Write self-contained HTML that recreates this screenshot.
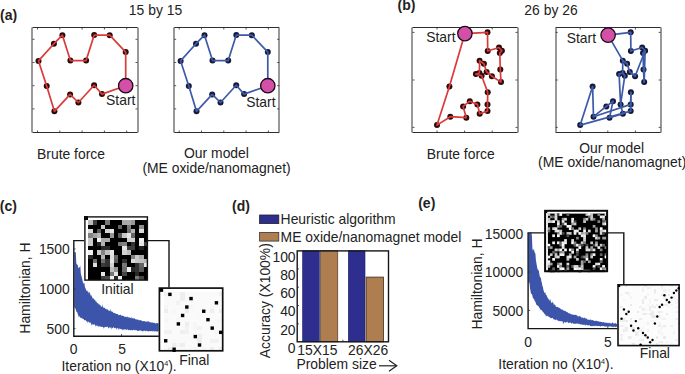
<!DOCTYPE html>
<html><head><meta charset="utf-8"><style>
html,body{margin:0;padding:0;background:#fff;width:685px;height:374px;overflow:hidden}
svg{display:block}
text{font-family:"Liberation Sans",sans-serif}
</style></head><body>
<svg width="685" height="374" viewBox="0 0 685 374">
<rect width="685" height="374" fill="#fff"/>
<text x="0" y="20.4" font-size="14" fill="#222" text-anchor="start" font-weight="bold" >(a)</text>
<text x="155.5" y="15.2" font-size="13.9" fill="#222" text-anchor="middle" font-weight="normal" >15 by 15</text>
<line x1="32.5" y1="27.5" x2="137.5" y2="27.5" stroke="#2e2e2e" stroke-width="1"/>
<line x1="32.5" y1="132.5" x2="137.5" y2="132.5" stroke="#2e2e2e" stroke-width="1"/>
<line x1="32" y1="27.5" x2="32" y2="132.5" stroke="#444" stroke-width="1.1"/>
<line x1="138" y1="27.5" x2="138" y2="132.5" stroke="#444" stroke-width="1.1"/>
<line x1="37.5" y1="27.5" x2="37.5" y2="29.5" stroke="#2a2a2a" stroke-width="0.8"/>
<line x1="37.5" y1="132.5" x2="37.5" y2="130.5" stroke="#2a2a2a" stroke-width="0.8"/>
<line x1="59.8" y1="27.5" x2="59.8" y2="29.5" stroke="#2a2a2a" stroke-width="0.8"/>
<line x1="59.8" y1="132.5" x2="59.8" y2="130.5" stroke="#2a2a2a" stroke-width="0.8"/>
<line x1="82.1" y1="27.5" x2="82.1" y2="29.5" stroke="#2a2a2a" stroke-width="0.8"/>
<line x1="82.1" y1="132.5" x2="82.1" y2="130.5" stroke="#2a2a2a" stroke-width="0.8"/>
<line x1="104.4" y1="27.5" x2="104.4" y2="29.5" stroke="#2a2a2a" stroke-width="0.8"/>
<line x1="104.4" y1="132.5" x2="104.4" y2="130.5" stroke="#2a2a2a" stroke-width="0.8"/>
<line x1="126.7" y1="27.5" x2="126.7" y2="29.5" stroke="#2a2a2a" stroke-width="0.8"/>
<line x1="126.7" y1="132.5" x2="126.7" y2="130.5" stroke="#2a2a2a" stroke-width="0.8"/>
<line x1="32.5" y1="39.3" x2="34.5" y2="39.3" stroke="#2a2a2a" stroke-width="0.8"/>
<line x1="137.5" y1="39.3" x2="135.5" y2="39.3" stroke="#2a2a2a" stroke-width="0.8"/>
<line x1="32.5" y1="62.5" x2="34.5" y2="62.5" stroke="#2a2a2a" stroke-width="0.8"/>
<line x1="137.5" y1="62.5" x2="135.5" y2="62.5" stroke="#2a2a2a" stroke-width="0.8"/>
<line x1="32.5" y1="85.7" x2="34.5" y2="85.7" stroke="#2a2a2a" stroke-width="0.8"/>
<line x1="137.5" y1="85.7" x2="135.5" y2="85.7" stroke="#2a2a2a" stroke-width="0.8"/>
<line x1="32.5" y1="108.9" x2="34.5" y2="108.9" stroke="#2a2a2a" stroke-width="0.8"/>
<line x1="137.5" y1="108.9" x2="135.5" y2="108.9" stroke="#2a2a2a" stroke-width="0.8"/>
<circle cx="125.7" cy="52.1" r="3.0" fill="#2a0a0a"/>
<circle cx="109.7" cy="35.2" r="3.0" fill="#2a0a0a"/>
<circle cx="94.2" cy="35.1" r="3.0" fill="#2a0a0a"/>
<circle cx="86.1" cy="60.6" r="3.0" fill="#2a0a0a"/>
<circle cx="70.4" cy="60.6" r="3.0" fill="#2a0a0a"/>
<circle cx="62.4" cy="35.2" r="3.0" fill="#2a0a0a"/>
<circle cx="53.9" cy="43.7" r="3.0" fill="#2a0a0a"/>
<circle cx="38.5" cy="60.9" r="3.0" fill="#2a0a0a"/>
<circle cx="46.7" cy="85.9" r="3.0" fill="#2a0a0a"/>
<circle cx="54.4" cy="111.3" r="3.0" fill="#2a0a0a"/>
<circle cx="70.1" cy="94.4" r="3.0" fill="#2a0a0a"/>
<circle cx="78.4" cy="102.5" r="3.0" fill="#2a0a0a"/>
<circle cx="94.1" cy="85.2" r="3.0" fill="#2a0a0a"/>
<circle cx="102.0" cy="94.1" r="3.0" fill="#2a0a0a"/>
<path d="M125.7,85.7 L125.7,52.1 L109.7,35.2 L94.2,35.1 L86.1,60.6 L70.4,60.6 L62.4,35.2 L53.9,43.7 L38.5,60.9 L46.7,85.9 L54.4,111.3 L70.1,94.4 L78.4,102.5 L94.1,85.2 L102.0,94.1 L125.7,85.7" fill="none" stroke="#d93a3a" stroke-width="1.7" stroke-linejoin="round"/>
<circle cx="125.7" cy="85.7" r="7.2" fill="#d44fa8" stroke="#1a0a14" stroke-width="1.3"/>
<text x="106.1" y="104.8" font-size="13.9" fill="#222" text-anchor="start" font-weight="normal" >Start</text>
<line x1="174.2" y1="27.5" x2="279.2" y2="27.5" stroke="#2e2e2e" stroke-width="1"/>
<line x1="174.2" y1="132.5" x2="279.2" y2="132.5" stroke="#2e2e2e" stroke-width="1"/>
<line x1="174" y1="27.5" x2="174" y2="132.5" stroke="#444" stroke-width="1.1"/>
<line x1="279" y1="27.5" x2="279" y2="132.5" stroke="#444" stroke-width="1.1"/>
<line x1="179.2" y1="27.5" x2="179.2" y2="29.5" stroke="#2a2a2a" stroke-width="0.8"/>
<line x1="179.2" y1="132.5" x2="179.2" y2="130.5" stroke="#2a2a2a" stroke-width="0.8"/>
<line x1="201.5" y1="27.5" x2="201.5" y2="29.5" stroke="#2a2a2a" stroke-width="0.8"/>
<line x1="201.5" y1="132.5" x2="201.5" y2="130.5" stroke="#2a2a2a" stroke-width="0.8"/>
<line x1="223.79999999999998" y1="27.5" x2="223.79999999999998" y2="29.5" stroke="#2a2a2a" stroke-width="0.8"/>
<line x1="223.79999999999998" y1="132.5" x2="223.79999999999998" y2="130.5" stroke="#2a2a2a" stroke-width="0.8"/>
<line x1="246.1" y1="27.5" x2="246.1" y2="29.5" stroke="#2a2a2a" stroke-width="0.8"/>
<line x1="246.1" y1="132.5" x2="246.1" y2="130.5" stroke="#2a2a2a" stroke-width="0.8"/>
<line x1="268.4" y1="27.5" x2="268.4" y2="29.5" stroke="#2a2a2a" stroke-width="0.8"/>
<line x1="268.4" y1="132.5" x2="268.4" y2="130.5" stroke="#2a2a2a" stroke-width="0.8"/>
<line x1="174.2" y1="39.3" x2="176.2" y2="39.3" stroke="#2a2a2a" stroke-width="0.8"/>
<line x1="279.2" y1="39.3" x2="277.2" y2="39.3" stroke="#2a2a2a" stroke-width="0.8"/>
<line x1="174.2" y1="62.5" x2="176.2" y2="62.5" stroke="#2a2a2a" stroke-width="0.8"/>
<line x1="279.2" y1="62.5" x2="277.2" y2="62.5" stroke="#2a2a2a" stroke-width="0.8"/>
<line x1="174.2" y1="85.7" x2="176.2" y2="85.7" stroke="#2a2a2a" stroke-width="0.8"/>
<line x1="279.2" y1="85.7" x2="277.2" y2="85.7" stroke="#2a2a2a" stroke-width="0.8"/>
<line x1="174.2" y1="108.9" x2="176.2" y2="108.9" stroke="#2a2a2a" stroke-width="0.8"/>
<line x1="279.2" y1="108.9" x2="277.2" y2="108.9" stroke="#2a2a2a" stroke-width="0.8"/>
<circle cx="267.8" cy="52.1" r="3.0" fill="#161a3a"/>
<circle cx="251.8" cy="35.2" r="3.0" fill="#161a3a"/>
<circle cx="236.3" cy="35.1" r="3.0" fill="#161a3a"/>
<circle cx="228.2" cy="60.6" r="3.0" fill="#161a3a"/>
<circle cx="212.5" cy="60.6" r="3.0" fill="#161a3a"/>
<circle cx="204.5" cy="35.2" r="3.0" fill="#161a3a"/>
<circle cx="196.0" cy="43.7" r="3.0" fill="#161a3a"/>
<circle cx="180.6" cy="60.9" r="3.0" fill="#161a3a"/>
<circle cx="188.8" cy="85.9" r="3.0" fill="#161a3a"/>
<circle cx="196.5" cy="111.3" r="3.0" fill="#161a3a"/>
<circle cx="212.2" cy="94.4" r="3.0" fill="#161a3a"/>
<circle cx="220.5" cy="102.5" r="3.0" fill="#161a3a"/>
<circle cx="236.2" cy="85.2" r="3.0" fill="#161a3a"/>
<circle cx="244.1" cy="94.1" r="3.0" fill="#161a3a"/>
<path d="M267.8,85.7 L267.8,52.1 L251.8,35.2 L236.3,35.1 L228.2,60.6 L212.5,60.6 L204.5,35.2 L196.0,43.7 L180.6,60.9 L188.8,85.9 L196.5,111.3 L212.2,94.4 L220.5,102.5 L236.2,85.2 L244.1,94.1 L267.8,85.7" fill="none" stroke="#3d5aa8" stroke-width="1.7" stroke-linejoin="round"/>
<circle cx="267.8" cy="85.7" r="7.2" fill="#d44fa8" stroke="#1a0a14" stroke-width="1.3"/>
<text x="246.2" y="107.0" font-size="13.9" fill="#222" text-anchor="start" font-weight="normal" >Start</text>
<text x="71" y="158.8" font-size="13.9" fill="#222" text-anchor="middle" font-weight="normal" >Brute force</text>
<text x="216.5" y="157.8" font-size="13.9" fill="#222" text-anchor="middle" font-weight="normal" >Our model</text>
<text x="216.5" y="172.6" font-size="13.9" fill="#222" text-anchor="middle" font-weight="normal" >(ME oxide/nanomagnet)</text>
<text x="397.6" y="10.4" font-size="14" fill="#222" text-anchor="start" font-weight="bold" >(b)</text>
<text x="551" y="14.9" font-size="13.9" fill="#222" text-anchor="middle" font-weight="normal" >26 by 26</text>
<line x1="412.5" y1="27.5" x2="517.5" y2="27.5" stroke="#2e2e2e" stroke-width="1"/>
<line x1="412.5" y1="132.5" x2="517.5" y2="132.5" stroke="#2e2e2e" stroke-width="1"/>
<line x1="412" y1="27.5" x2="412" y2="132.5" stroke="#444" stroke-width="1.1"/>
<line x1="518" y1="27.5" x2="518" y2="132.5" stroke="#444" stroke-width="1.1"/>
<line x1="437" y1="27.5" x2="437" y2="29.5" stroke="#2a2a2a" stroke-width="0.8"/>
<line x1="437" y1="132.5" x2="437" y2="130.5" stroke="#2a2a2a" stroke-width="0.8"/>
<line x1="464.6" y1="27.5" x2="464.6" y2="29.5" stroke="#2a2a2a" stroke-width="0.8"/>
<line x1="464.6" y1="132.5" x2="464.6" y2="130.5" stroke="#2a2a2a" stroke-width="0.8"/>
<line x1="492.2" y1="27.5" x2="492.2" y2="29.5" stroke="#2a2a2a" stroke-width="0.8"/>
<line x1="492.2" y1="132.5" x2="492.2" y2="130.5" stroke="#2a2a2a" stroke-width="0.8"/>
<line x1="412.5" y1="32.4" x2="414.5" y2="32.4" stroke="#2a2a2a" stroke-width="0.8"/>
<line x1="517.5" y1="32.4" x2="515.5" y2="32.4" stroke="#2a2a2a" stroke-width="0.8"/>
<line x1="412.5" y1="80" x2="414.5" y2="80" stroke="#2a2a2a" stroke-width="0.8"/>
<line x1="517.5" y1="80" x2="515.5" y2="80" stroke="#2a2a2a" stroke-width="0.8"/>
<line x1="412.5" y1="127.4" x2="414.5" y2="127.4" stroke="#2a2a2a" stroke-width="0.8"/>
<line x1="517.5" y1="127.4" x2="515.5" y2="127.4" stroke="#2a2a2a" stroke-width="0.8"/>
<circle cx="449.4" cy="86.6" r="3.0" fill="#2a0a0a"/>
<circle cx="437.0" cy="125.1" r="3.0" fill="#2a0a0a"/>
<circle cx="450.3" cy="116.7" r="3.0" fill="#2a0a0a"/>
<circle cx="466.3" cy="117.7" r="3.0" fill="#2a0a0a"/>
<circle cx="463.1" cy="106.4" r="3.0" fill="#2a0a0a"/>
<circle cx="469.8" cy="101.3" r="3.0" fill="#2a0a0a"/>
<circle cx="477.4" cy="104.4" r="3.0" fill="#2a0a0a"/>
<circle cx="479.7" cy="113.7" r="3.0" fill="#2a0a0a"/>
<circle cx="487.5" cy="111.1" r="3.0" fill="#2a0a0a"/>
<circle cx="487.5" cy="104.4" r="3.0" fill="#2a0a0a"/>
<circle cx="487.7" cy="92.3" r="3.0" fill="#2a0a0a"/>
<circle cx="481.6" cy="75.7" r="3.0" fill="#2a0a0a"/>
<circle cx="479.4" cy="73.0" r="3.0" fill="#2a0a0a"/>
<circle cx="475.9" cy="74.1" r="3.0" fill="#2a0a0a"/>
<circle cx="479.6" cy="60.7" r="3.0" fill="#2a0a0a"/>
<circle cx="483.9" cy="63.7" r="3.0" fill="#2a0a0a"/>
<circle cx="486.6" cy="71.9" r="3.0" fill="#2a0a0a"/>
<circle cx="491.9" cy="76.2" r="3.0" fill="#2a0a0a"/>
<circle cx="501.0" cy="82.1" r="3.0" fill="#2a0a0a"/>
<circle cx="500.3" cy="69.6" r="3.0" fill="#2a0a0a"/>
<circle cx="499.8" cy="53.0" r="3.0" fill="#2a0a0a"/>
<circle cx="501.9" cy="50.7" r="3.0" fill="#2a0a0a"/>
<circle cx="499.0" cy="47.5" r="3.0" fill="#2a0a0a"/>
<circle cx="487.7" cy="51.0" r="3.0" fill="#2a0a0a"/>
<circle cx="487.5" cy="32.3" r="3.0" fill="#2a0a0a"/>
<path d="M464.9,33.6 L449.4,86.6 L437.0,125.1 L450.3,116.7 L466.3,117.7 L463.1,106.4 L469.8,101.3 L477.4,104.4 L479.7,113.7 L487.5,111.1 L487.5,104.4 L487.7,92.3 L481.6,75.7 L475.9,74.1 L479.4,73.0 L479.6,60.7 L483.9,63.7 L486.6,71.9 L491.9,76.2 L501.0,82.1 L500.3,69.6 L499.8,53.0 L501.9,50.7 L499.0,47.5 L487.7,51.0 L487.5,32.3 L464.9,33.6" fill="none" stroke="#d93a3a" stroke-width="1.7" stroke-linejoin="round"/>
<circle cx="464.9" cy="33.6" r="7.2" fill="#d44fa8" stroke="#1a0a14" stroke-width="1.3"/>
<text x="426.2" y="41.5" font-size="13.9" fill="#222" text-anchor="start" font-weight="normal" >Start</text>
<line x1="555.7" y1="27.5" x2="660.7" y2="27.5" stroke="#2e2e2e" stroke-width="1"/>
<line x1="555.7" y1="132.5" x2="660.7" y2="132.5" stroke="#2e2e2e" stroke-width="1"/>
<line x1="556" y1="27.5" x2="556" y2="132.5" stroke="#444" stroke-width="1.1"/>
<line x1="661" y1="27.5" x2="661" y2="132.5" stroke="#444" stroke-width="1.1"/>
<line x1="580.2" y1="27.5" x2="580.2" y2="29.5" stroke="#2a2a2a" stroke-width="0.8"/>
<line x1="580.2" y1="132.5" x2="580.2" y2="130.5" stroke="#2a2a2a" stroke-width="0.8"/>
<line x1="607.8" y1="27.5" x2="607.8" y2="29.5" stroke="#2a2a2a" stroke-width="0.8"/>
<line x1="607.8" y1="132.5" x2="607.8" y2="130.5" stroke="#2a2a2a" stroke-width="0.8"/>
<line x1="635.4" y1="27.5" x2="635.4" y2="29.5" stroke="#2a2a2a" stroke-width="0.8"/>
<line x1="635.4" y1="132.5" x2="635.4" y2="130.5" stroke="#2a2a2a" stroke-width="0.8"/>
<line x1="555.7" y1="32.4" x2="557.7" y2="32.4" stroke="#2a2a2a" stroke-width="0.8"/>
<line x1="660.7" y1="32.4" x2="658.7" y2="32.4" stroke="#2a2a2a" stroke-width="0.8"/>
<line x1="555.7" y1="80" x2="557.7" y2="80" stroke="#2a2a2a" stroke-width="0.8"/>
<line x1="660.7" y1="80" x2="658.7" y2="80" stroke="#2a2a2a" stroke-width="0.8"/>
<line x1="555.7" y1="127.4" x2="557.7" y2="127.4" stroke="#2a2a2a" stroke-width="0.8"/>
<line x1="660.7" y1="127.4" x2="658.7" y2="127.4" stroke="#2a2a2a" stroke-width="0.8"/>
<circle cx="592.6" cy="86.6" r="3.0" fill="#161a3a"/>
<circle cx="580.2" cy="125.1" r="3.0" fill="#161a3a"/>
<circle cx="593.5" cy="116.7" r="3.0" fill="#161a3a"/>
<circle cx="609.5" cy="117.7" r="3.0" fill="#161a3a"/>
<circle cx="606.3" cy="106.4" r="3.0" fill="#161a3a"/>
<circle cx="613.0" cy="101.3" r="3.0" fill="#161a3a"/>
<circle cx="620.6" cy="104.4" r="3.0" fill="#161a3a"/>
<circle cx="622.9" cy="113.7" r="3.0" fill="#161a3a"/>
<circle cx="630.7" cy="111.1" r="3.0" fill="#161a3a"/>
<circle cx="630.7" cy="104.4" r="3.0" fill="#161a3a"/>
<circle cx="630.9" cy="92.3" r="3.0" fill="#161a3a"/>
<circle cx="624.8" cy="75.7" r="3.0" fill="#161a3a"/>
<circle cx="622.6" cy="73.0" r="3.0" fill="#161a3a"/>
<circle cx="619.1" cy="74.1" r="3.0" fill="#161a3a"/>
<circle cx="622.8" cy="60.7" r="3.0" fill="#161a3a"/>
<circle cx="627.1" cy="63.7" r="3.0" fill="#161a3a"/>
<circle cx="629.8" cy="71.9" r="3.0" fill="#161a3a"/>
<circle cx="635.1" cy="76.2" r="3.0" fill="#161a3a"/>
<circle cx="644.2" cy="82.1" r="3.0" fill="#161a3a"/>
<circle cx="643.5" cy="69.6" r="3.0" fill="#161a3a"/>
<circle cx="643.0" cy="53.0" r="3.0" fill="#161a3a"/>
<circle cx="645.1" cy="50.7" r="3.0" fill="#161a3a"/>
<circle cx="642.2" cy="47.5" r="3.0" fill="#161a3a"/>
<circle cx="630.9" cy="51.0" r="3.0" fill="#161a3a"/>
<circle cx="630.7" cy="32.3" r="3.0" fill="#161a3a"/>
<line x1="608.1" y1="35.1" x2="630.7" y2="32.3" stroke="#3d5aa8" stroke-width="1.7" stroke-linecap="round"/>
<line x1="630.7" y1="32.3" x2="630.9" y2="51.0" stroke="#3d5aa8" stroke-width="1.7" stroke-linecap="round"/>
<line x1="630.9" y1="51.0" x2="642.2" y2="47.5" stroke="#3d5aa8" stroke-width="1.7" stroke-linecap="round"/>
<line x1="642.2" y1="47.5" x2="645.1" y2="50.7" stroke="#3d5aa8" stroke-width="1.7" stroke-linecap="round"/>
<line x1="645.1" y1="50.7" x2="643.0" y2="53.0" stroke="#3d5aa8" stroke-width="1.7" stroke-linecap="round"/>
<line x1="643.0" y1="53.0" x2="643.5" y2="69.6" stroke="#3d5aa8" stroke-width="1.7" stroke-linecap="round"/>
<line x1="643.5" y1="69.6" x2="644.2" y2="82.1" stroke="#3d5aa8" stroke-width="1.7" stroke-linecap="round"/>
<line x1="645.1" y1="50.7" x2="644.2" y2="82.1" stroke="#3d5aa8" stroke-width="1.7" stroke-linecap="round"/>
<line x1="645.1" y1="50.7" x2="635.1" y2="76.2" stroke="#3d5aa8" stroke-width="1.7" stroke-linecap="round"/>
<line x1="635.1" y1="76.2" x2="629.8" y2="71.9" stroke="#3d5aa8" stroke-width="1.7" stroke-linecap="round"/>
<line x1="629.8" y1="71.9" x2="627.1" y2="63.7" stroke="#3d5aa8" stroke-width="1.7" stroke-linecap="round"/>
<line x1="627.1" y1="63.7" x2="622.8" y2="60.7" stroke="#3d5aa8" stroke-width="1.7" stroke-linecap="round"/>
<line x1="608.1" y1="35.1" x2="622.8" y2="60.7" stroke="#3d5aa8" stroke-width="1.7" stroke-linecap="round"/>
<line x1="622.8" y1="60.7" x2="622.6" y2="73.0" stroke="#3d5aa8" stroke-width="1.7" stroke-linecap="round"/>
<line x1="622.6" y1="73.0" x2="619.1" y2="74.1" stroke="#3d5aa8" stroke-width="1.7" stroke-linecap="round"/>
<line x1="619.1" y1="74.1" x2="620.6" y2="104.4" stroke="#3d5aa8" stroke-width="1.7" stroke-linecap="round"/>
<line x1="624.8" y1="75.7" x2="620.6" y2="104.4" stroke="#3d5aa8" stroke-width="1.7" stroke-linecap="round"/>
<line x1="622.6" y1="73.0" x2="624.8" y2="75.7" stroke="#3d5aa8" stroke-width="1.7" stroke-linecap="round"/>
<line x1="592.6" y1="86.6" x2="580.2" y2="125.1" stroke="#3d5aa8" stroke-width="1.7" stroke-linecap="round"/>
<line x1="592.6" y1="86.6" x2="593.5" y2="116.7" stroke="#3d5aa8" stroke-width="1.7" stroke-linecap="round"/>
<line x1="593.5" y1="116.7" x2="606.3" y2="106.4" stroke="#3d5aa8" stroke-width="1.7" stroke-linecap="round"/>
<line x1="606.3" y1="106.4" x2="613.0" y2="101.3" stroke="#3d5aa8" stroke-width="1.7" stroke-linecap="round"/>
<line x1="613.0" y1="101.3" x2="609.5" y2="117.7" stroke="#3d5aa8" stroke-width="1.7" stroke-linecap="round"/>
<line x1="609.5" y1="117.7" x2="622.9" y2="113.7" stroke="#3d5aa8" stroke-width="1.7" stroke-linecap="round"/>
<line x1="620.6" y1="104.4" x2="622.9" y2="113.7" stroke="#3d5aa8" stroke-width="1.7" stroke-linecap="round"/>
<line x1="593.5" y1="116.7" x2="630.7" y2="104.4" stroke="#3d5aa8" stroke-width="1.7" stroke-linecap="round"/>
<line x1="580.2" y1="125.1" x2="630.7" y2="111.1" stroke="#3d5aa8" stroke-width="1.7" stroke-linecap="round"/>
<line x1="630.7" y1="104.4" x2="630.9" y2="92.3" stroke="#3d5aa8" stroke-width="1.7" stroke-linecap="round"/>
<line x1="630.7" y1="111.1" x2="630.9" y2="92.3" stroke="#3d5aa8" stroke-width="1.7" stroke-linecap="round"/>
<circle cx="608.1" cy="35.1" r="7.2" fill="#d44fa8" stroke="#1a0a14" stroke-width="1.3"/>
<text x="566.7" y="42.8" font-size="13.9" fill="#222" text-anchor="start" font-weight="normal" >Start</text>
<text x="460.8" y="158.8" font-size="13.9" fill="#222" text-anchor="middle" font-weight="normal" >Brute force</text>
<text x="611.6" y="152.6" font-size="13.9" fill="#222" text-anchor="middle" font-weight="normal" >Our model</text>
<text x="612.2" y="167.4" font-size="13.9" fill="#222" text-anchor="middle" font-weight="normal" >(ME oxide/nanomagnet)</text>
<text x="-0.2" y="210.6" font-size="14" fill="#222" text-anchor="start" font-weight="bold" >(c)</text>
<path d="M74.30,251.42 L74.80,252.51 L75.30,252.18 L75.80,252.00 L76.30,263.21 L76.80,264.03 L77.30,265.69 L77.80,264.21 L78.30,268.26 L78.80,268.05 L79.30,267.13 L79.80,267.01 L80.30,265.59 L80.80,273.41 L81.30,275.56 L81.80,277.56 L82.30,279.53 L82.80,281.88 L83.30,283.05 L83.80,283.66 L84.30,282.66 L84.80,286.60 L85.30,287.99 L85.80,289.11 L86.30,290.41 L86.80,291.08 L87.30,290.30 L87.80,291.91 L88.30,291.61 L88.80,293.61 L89.30,293.09 L89.80,291.50 L90.30,294.58 L90.80,295.65 L91.30,294.94 L91.80,296.54 L92.30,297.28 L92.80,298.84 L93.30,298.36 L93.80,298.71 L94.30,300.11 L94.80,299.62 L95.30,300.35 L95.80,301.70 L96.30,301.37 L96.80,302.46 L97.30,302.91 L97.80,303.14 L98.30,303.61 L98.80,304.55 L99.30,303.99 L99.80,305.30 L100.30,304.86 L100.80,306.29 L101.30,306.71 L101.80,306.65 L102.30,304.14 L102.80,306.99 L103.30,307.33 L103.80,308.03 L104.30,307.72 L104.80,307.83 L105.30,308.73 L105.80,309.05 L106.30,309.69 L106.80,308.78 L107.30,309.20 L107.80,309.73 L108.30,309.68 L108.80,310.90 L109.30,310.85 L109.80,311.01 L110.30,308.71 L110.80,311.59 L111.30,310.95 L111.80,311.73 L112.30,311.74 L112.80,311.65 L113.30,312.68 L113.80,312.89 L114.30,313.16 L114.80,312.84 L115.30,313.71 L115.80,313.34 L116.30,314.08 L116.80,314.01 L117.30,314.16 L117.80,313.78 L118.30,315.07 L118.80,314.96 L119.30,315.18 L119.80,315.05 L120.30,314.79 L120.80,314.86 L121.30,315.52 L121.80,315.90 L122.30,315.93 L122.80,315.20 L123.30,316.26 L123.80,315.81 L124.30,316.50 L124.80,316.89 L125.30,316.76 L125.80,316.63 L126.30,317.30 L126.80,316.84 L127.30,316.25 L127.80,317.60 L128.30,317.59 L128.80,317.25 L129.30,317.56 L129.80,317.44 L130.30,318.01 L130.80,317.80 L131.30,318.64 L131.80,316.82 L132.30,317.89 L132.80,318.57 L133.30,318.79 L133.80,317.84 L134.30,318.60 L134.80,318.53 L135.30,319.07 L135.80,319.41 L136.30,319.84 L136.80,319.20 L137.30,318.88 L137.80,319.96 L138.30,319.65 L138.80,320.20 L139.30,320.24 L139.80,320.14 L140.30,319.95 L140.80,320.28 L141.30,320.67 L141.80,320.52 L142.30,321.12 L142.80,321.28 L143.30,321.08 L143.80,321.24 L144.30,321.26 L144.80,320.93 L145.30,321.79 L145.80,321.44 L146.30,321.32 L146.80,321.95 L147.30,321.27 L147.80,321.83 L148.30,321.16 L148.80,321.54 L149.30,321.74 L149.80,322.45 L150.30,321.89 L150.80,322.54 L151.30,322.58 L151.80,322.46 L152.30,322.13 L152.80,322.64 L153.30,322.92 L153.80,322.78 L154.30,322.90 L154.80,322.79 L155.30,323.38 L155.80,323.41 L156.30,323.15 L156.80,322.91 L157.30,323.28 L157.80,322.88 L158.30,323.44 L158.80,323.80 L158.80,331.29 L158.30,330.85 L157.80,331.19 L157.30,331.69 L156.80,331.61 L156.30,331.56 L155.80,331.21 L155.30,330.91 L154.80,332.32 L154.30,330.72 L153.80,330.91 L153.30,331.00 L152.80,331.92 L152.30,330.78 L151.80,330.89 L151.30,331.16 L150.80,330.99 L150.30,331.14 L149.80,330.79 L149.30,331.20 L148.80,331.39 L148.30,331.37 L147.80,331.23 L147.30,331.37 L146.80,330.75 L146.30,330.63 L145.80,331.49 L145.30,331.09 L144.80,330.44 L144.30,330.74 L143.80,330.42 L143.30,331.13 L142.80,330.92 L142.30,331.63 L141.80,330.95 L141.30,330.85 L140.80,330.24 L140.30,330.67 L139.80,330.65 L139.30,330.24 L138.80,330.86 L138.30,330.96 L137.80,330.90 L137.30,330.68 L136.80,330.34 L136.30,330.27 L135.80,329.81 L135.30,330.62 L134.80,330.19 L134.30,330.10 L133.80,329.82 L133.30,329.63 L132.80,330.41 L132.30,330.44 L131.80,329.93 L131.30,330.00 L130.80,330.28 L130.30,330.36 L129.80,330.18 L129.30,329.72 L128.80,330.18 L128.30,330.00 L127.80,329.55 L127.30,329.13 L126.80,329.99 L126.30,329.65 L125.80,329.14 L125.30,329.57 L124.80,329.51 L124.30,329.31 L123.80,329.78 L123.30,329.39 L122.80,330.57 L122.30,329.33 L121.80,329.18 L121.30,329.19 L120.80,329.36 L120.30,328.84 L119.80,328.85 L119.30,328.86 L118.80,328.12 L118.30,330.41 L117.80,328.07 L117.30,328.00 L116.80,330.10 L116.30,328.15 L115.80,328.29 L115.30,327.84 L114.80,328.09 L114.30,328.21 L113.80,327.27 L113.30,327.23 L112.80,328.03 L112.30,328.14 L111.80,327.01 L111.30,329.83 L110.80,327.33 L110.30,327.94 L109.80,327.32 L109.30,327.54 L108.80,327.84 L108.30,328.64 L107.80,327.12 L107.30,326.57 L106.80,326.63 L106.30,327.31 L105.80,326.75 L105.30,326.93 L104.80,327.04 L104.30,327.57 L103.80,328.63 L103.30,327.29 L102.80,326.68 L102.30,327.04 L101.80,326.84 L101.30,326.98 L100.80,326.23 L100.30,327.05 L99.80,326.45 L99.30,326.23 L98.80,325.72 L98.30,327.27 L97.80,326.06 L97.30,325.64 L96.80,325.24 L96.30,325.81 L95.80,326.81 L95.30,325.29 L94.80,324.54 L94.30,324.41 L93.80,324.31 L93.30,324.94 L92.80,324.07 L92.30,324.35 L91.80,325.74 L91.30,324.22 L90.80,322.98 L90.30,322.46 L89.80,321.88 L89.30,323.36 L88.80,322.33 L88.30,321.43 L87.80,321.29 L87.30,323.15 L86.80,321.10 L86.30,321.41 L85.80,320.42 L85.30,319.98 L84.80,319.88 L84.30,320.38 L83.80,319.34 L83.30,319.00 L82.80,318.66 L82.30,318.56 L81.80,318.15 L81.30,317.82 L80.80,317.69 L80.30,318.11 L79.80,316.32 L79.30,316.46 L78.80,317.50 L78.30,315.37 L77.80,314.23 L77.30,312.42 L76.80,311.72 L76.30,311.74 L75.80,309.52 L75.30,308.46 L74.80,307.19 L74.30,307.75Z" fill="#3c55aa"/>
<path d="M73.8,240.6 H169 V336.3 H73.8 Z" fill="none" stroke="#151515" stroke-width="1.4"/>
<line x1="73.5" y1="248.9" x2="75.5" y2="248.9" stroke="#2a2a2a" stroke-width="0.8"/>
<line x1="73.5" y1="288.8" x2="75.5" y2="288.8" stroke="#2a2a2a" stroke-width="0.8"/>
<line x1="73.5" y1="328.65" x2="75.5" y2="328.65" stroke="#2a2a2a" stroke-width="0.8"/>
<line x1="121.5" y1="336" x2="121.5" y2="334" stroke="#2a2a2a" stroke-width="0.8"/>
<text x="69.8" y="254.0" font-size="13.9" fill="#222" text-anchor="end" font-weight="normal" >1500</text>
<text x="69.8" y="294.0" font-size="13.9" fill="#222" text-anchor="end" font-weight="normal" >1000</text>
<text x="69.8" y="334.1" font-size="13.9" fill="#222" text-anchor="end" font-weight="normal" >500</text>
<text x="73.7" y="353.5" font-size="13.9" fill="#222" text-anchor="middle" font-weight="normal" >0</text>
<text x="122" y="353.5" font-size="13.9" fill="#222" text-anchor="middle" font-weight="normal" >5</text>
<text x="30.3" y="288.1" font-size="13.9" fill="#222" text-anchor="middle" font-weight="normal" transform="rotate(-90 30.3 288.1)">Hamiltonian, H</text>
<text x="61.5" y="371.0" font-size="13.9" fill="#222" text-anchor="start" font-weight="normal" >Iteration no (X10<tspan font-size="7.2" dy="-4.6">4</tspan><tspan dy="4.6">).</tspan></text>
<g shape-rendering="crispEdges">
<rect x="84.20" y="216.20" width="4.25" height="4.27" fill="rgb(0,0,0)"/>
<rect x="88.45" y="216.20" width="4.25" height="4.27" fill="rgb(255,255,255)"/>
<rect x="92.69" y="216.20" width="4.25" height="4.27" fill="rgb(255,255,255)"/>
<rect x="96.94" y="216.20" width="4.25" height="4.27" fill="rgb(255,255,255)"/>
<rect x="101.19" y="216.20" width="4.25" height="4.27" fill="rgb(255,255,255)"/>
<rect x="105.44" y="216.20" width="4.25" height="4.27" fill="rgb(255,255,255)"/>
<rect x="109.68" y="216.20" width="4.25" height="4.27" fill="rgb(255,255,255)"/>
<rect x="113.93" y="216.20" width="4.25" height="4.27" fill="rgb(255,255,255)"/>
<rect x="118.18" y="216.20" width="4.25" height="4.27" fill="rgb(255,255,255)"/>
<rect x="122.42" y="216.20" width="4.25" height="4.27" fill="rgb(255,255,255)"/>
<rect x="126.67" y="216.20" width="4.25" height="4.27" fill="rgb(255,255,255)"/>
<rect x="130.92" y="216.20" width="4.25" height="4.27" fill="rgb(255,255,255)"/>
<rect x="135.16" y="216.20" width="4.25" height="4.27" fill="rgb(255,255,255)"/>
<rect x="139.41" y="216.20" width="4.25" height="4.27" fill="rgb(255,255,255)"/>
<rect x="143.66" y="216.20" width="4.25" height="4.27" fill="rgb(255,255,255)"/>
<rect x="84.20" y="220.47" width="4.25" height="4.27" fill="rgb(255,255,255)"/>
<rect x="88.45" y="220.47" width="4.25" height="4.27" fill="rgb(190,190,190)"/>
<rect x="92.69" y="220.47" width="4.25" height="4.27" fill="rgb(60,60,60)"/>
<rect x="96.94" y="220.47" width="4.25" height="4.27" fill="rgb(0,0,0)"/>
<rect x="101.19" y="220.47" width="4.25" height="4.27" fill="rgb(0,0,0)"/>
<rect x="105.44" y="220.47" width="4.25" height="4.27" fill="rgb(120,120,120)"/>
<rect x="109.68" y="220.47" width="4.25" height="4.27" fill="rgb(0,0,0)"/>
<rect x="113.93" y="220.47" width="4.25" height="4.27" fill="rgb(0,0,0)"/>
<rect x="118.18" y="220.47" width="4.25" height="4.27" fill="rgb(0,0,0)"/>
<rect x="122.42" y="220.47" width="4.25" height="4.27" fill="rgb(170,170,170)"/>
<rect x="126.67" y="220.47" width="4.25" height="4.27" fill="rgb(170,170,170)"/>
<rect x="130.92" y="220.47" width="4.25" height="4.27" fill="rgb(150,150,150)"/>
<rect x="135.16" y="220.47" width="4.25" height="4.27" fill="rgb(0,0,0)"/>
<rect x="139.41" y="220.47" width="4.25" height="4.27" fill="rgb(0,0,0)"/>
<rect x="143.66" y="220.47" width="4.25" height="4.27" fill="rgb(0,0,0)"/>
<rect x="84.20" y="224.75" width="4.25" height="4.27" fill="rgb(255,255,255)"/>
<rect x="88.45" y="224.75" width="4.25" height="4.27" fill="rgb(0,0,0)"/>
<rect x="92.69" y="224.75" width="4.25" height="4.27" fill="rgb(0,0,0)"/>
<rect x="96.94" y="224.75" width="4.25" height="4.27" fill="rgb(0,0,0)"/>
<rect x="101.19" y="224.75" width="4.25" height="4.27" fill="rgb(200,200,200)"/>
<rect x="105.44" y="224.75" width="4.25" height="4.27" fill="rgb(0,0,0)"/>
<rect x="109.68" y="224.75" width="4.25" height="4.27" fill="rgb(0,0,0)"/>
<rect x="113.93" y="224.75" width="4.25" height="4.27" fill="rgb(0,0,0)"/>
<rect x="118.18" y="224.75" width="4.25" height="4.27" fill="rgb(100,100,100)"/>
<rect x="122.42" y="224.75" width="4.25" height="4.27" fill="rgb(0,0,0)"/>
<rect x="126.67" y="224.75" width="4.25" height="4.27" fill="rgb(120,120,120)"/>
<rect x="130.92" y="224.75" width="4.25" height="4.27" fill="rgb(0,0,0)"/>
<rect x="135.16" y="224.75" width="4.25" height="4.27" fill="rgb(0,0,0)"/>
<rect x="139.41" y="224.75" width="4.25" height="4.27" fill="rgb(140,140,140)"/>
<rect x="143.66" y="224.75" width="4.25" height="4.27" fill="rgb(0,0,0)"/>
<rect x="84.20" y="229.02" width="4.25" height="4.27" fill="rgb(255,255,255)"/>
<rect x="88.45" y="229.02" width="4.25" height="4.27" fill="rgb(220,220,220)"/>
<rect x="92.69" y="229.02" width="4.25" height="4.27" fill="rgb(0,0,0)"/>
<rect x="96.94" y="229.02" width="4.25" height="4.27" fill="rgb(90,90,90)"/>
<rect x="101.19" y="229.02" width="4.25" height="4.27" fill="rgb(0,0,0)"/>
<rect x="105.44" y="229.02" width="4.25" height="4.27" fill="rgb(210,210,210)"/>
<rect x="109.68" y="229.02" width="4.25" height="4.27" fill="rgb(230,230,230)"/>
<rect x="113.93" y="229.02" width="4.25" height="4.27" fill="rgb(0,0,0)"/>
<rect x="118.18" y="229.02" width="4.25" height="4.27" fill="rgb(0,0,0)"/>
<rect x="122.42" y="229.02" width="4.25" height="4.27" fill="rgb(0,0,0)"/>
<rect x="126.67" y="229.02" width="4.25" height="4.27" fill="rgb(110,110,110)"/>
<rect x="130.92" y="229.02" width="4.25" height="4.27" fill="rgb(180,180,180)"/>
<rect x="135.16" y="229.02" width="4.25" height="4.27" fill="rgb(0,0,0)"/>
<rect x="139.41" y="229.02" width="4.25" height="4.27" fill="rgb(220,220,220)"/>
<rect x="143.66" y="229.02" width="4.25" height="4.27" fill="rgb(0,0,0)"/>
<rect x="84.20" y="233.29" width="4.25" height="4.27" fill="rgb(255,255,255)"/>
<rect x="88.45" y="233.29" width="4.25" height="4.27" fill="rgb(130,130,130)"/>
<rect x="92.69" y="233.29" width="4.25" height="4.27" fill="rgb(160,160,160)"/>
<rect x="96.94" y="233.29" width="4.25" height="4.27" fill="rgb(180,180,180)"/>
<rect x="101.19" y="233.29" width="4.25" height="4.27" fill="rgb(0,0,0)"/>
<rect x="105.44" y="233.29" width="4.25" height="4.27" fill="rgb(0,0,0)"/>
<rect x="109.68" y="233.29" width="4.25" height="4.27" fill="rgb(150,150,150)"/>
<rect x="113.93" y="233.29" width="4.25" height="4.27" fill="rgb(0,0,0)"/>
<rect x="118.18" y="233.29" width="4.25" height="4.27" fill="rgb(90,90,90)"/>
<rect x="122.42" y="233.29" width="4.25" height="4.27" fill="rgb(200,200,200)"/>
<rect x="126.67" y="233.29" width="4.25" height="4.27" fill="rgb(230,230,230)"/>
<rect x="130.92" y="233.29" width="4.25" height="4.27" fill="rgb(100,100,100)"/>
<rect x="135.16" y="233.29" width="4.25" height="4.27" fill="rgb(0,0,0)"/>
<rect x="139.41" y="233.29" width="4.25" height="4.27" fill="rgb(0,0,0)"/>
<rect x="143.66" y="233.29" width="4.25" height="4.27" fill="rgb(0,0,0)"/>
<rect x="84.20" y="237.56" width="4.25" height="4.27" fill="rgb(255,255,255)"/>
<rect x="88.45" y="237.56" width="4.25" height="4.27" fill="rgb(200,200,200)"/>
<rect x="92.69" y="237.56" width="4.25" height="4.27" fill="rgb(0,0,0)"/>
<rect x="96.94" y="237.56" width="4.25" height="4.27" fill="rgb(240,240,240)"/>
<rect x="101.19" y="237.56" width="4.25" height="4.27" fill="rgb(170,170,170)"/>
<rect x="105.44" y="237.56" width="4.25" height="4.27" fill="rgb(170,170,170)"/>
<rect x="109.68" y="237.56" width="4.25" height="4.27" fill="rgb(0,0,0)"/>
<rect x="113.93" y="237.56" width="4.25" height="4.27" fill="rgb(0,0,0)"/>
<rect x="118.18" y="237.56" width="4.25" height="4.27" fill="rgb(0,0,0)"/>
<rect x="122.42" y="237.56" width="4.25" height="4.27" fill="rgb(0,0,0)"/>
<rect x="126.67" y="237.56" width="4.25" height="4.27" fill="rgb(210,210,210)"/>
<rect x="130.92" y="237.56" width="4.25" height="4.27" fill="rgb(210,210,210)"/>
<rect x="135.16" y="237.56" width="4.25" height="4.27" fill="rgb(0,0,0)"/>
<rect x="139.41" y="237.56" width="4.25" height="4.27" fill="rgb(240,240,240)"/>
<rect x="143.66" y="237.56" width="4.25" height="4.27" fill="rgb(0,0,0)"/>
<rect x="84.20" y="241.84" width="4.25" height="4.27" fill="rgb(255,255,255)"/>
<rect x="88.45" y="241.84" width="4.25" height="4.27" fill="rgb(200,200,200)"/>
<rect x="92.69" y="241.84" width="4.25" height="4.27" fill="rgb(0,0,0)"/>
<rect x="96.94" y="241.84" width="4.25" height="4.27" fill="rgb(40,40,40)"/>
<rect x="101.19" y="241.84" width="4.25" height="4.27" fill="rgb(180,180,180)"/>
<rect x="105.44" y="241.84" width="4.25" height="4.27" fill="rgb(0,0,0)"/>
<rect x="109.68" y="241.84" width="4.25" height="4.27" fill="rgb(0,0,0)"/>
<rect x="113.93" y="241.84" width="4.25" height="4.27" fill="rgb(0,0,0)"/>
<rect x="118.18" y="241.84" width="4.25" height="4.27" fill="rgb(120,120,120)"/>
<rect x="122.42" y="241.84" width="4.25" height="4.27" fill="rgb(130,130,130)"/>
<rect x="126.67" y="241.84" width="4.25" height="4.27" fill="rgb(0,0,0)"/>
<rect x="130.92" y="241.84" width="4.25" height="4.27" fill="rgb(50,50,50)"/>
<rect x="135.16" y="241.84" width="4.25" height="4.27" fill="rgb(0,0,0)"/>
<rect x="139.41" y="241.84" width="4.25" height="4.27" fill="rgb(230,230,230)"/>
<rect x="143.66" y="241.84" width="4.25" height="4.27" fill="rgb(60,60,60)"/>
<rect x="84.20" y="246.11" width="4.25" height="4.27" fill="rgb(255,255,255)"/>
<rect x="88.45" y="246.11" width="4.25" height="4.27" fill="rgb(0,0,0)"/>
<rect x="92.69" y="246.11" width="4.25" height="4.27" fill="rgb(0,0,0)"/>
<rect x="96.94" y="246.11" width="4.25" height="4.27" fill="rgb(0,0,0)"/>
<rect x="101.19" y="246.11" width="4.25" height="4.27" fill="rgb(40,40,40)"/>
<rect x="105.44" y="246.11" width="4.25" height="4.27" fill="rgb(40,40,40)"/>
<rect x="109.68" y="246.11" width="4.25" height="4.27" fill="rgb(0,0,0)"/>
<rect x="113.93" y="246.11" width="4.25" height="4.27" fill="rgb(0,0,0)"/>
<rect x="118.18" y="246.11" width="4.25" height="4.27" fill="rgb(0,0,0)"/>
<rect x="122.42" y="246.11" width="4.25" height="4.27" fill="rgb(230,230,230)"/>
<rect x="126.67" y="246.11" width="4.25" height="4.27" fill="rgb(60,60,60)"/>
<rect x="130.92" y="246.11" width="4.25" height="4.27" fill="rgb(60,60,60)"/>
<rect x="135.16" y="246.11" width="4.25" height="4.27" fill="rgb(0,0,0)"/>
<rect x="139.41" y="246.11" width="4.25" height="4.27" fill="rgb(30,30,30)"/>
<rect x="143.66" y="246.11" width="4.25" height="4.27" fill="rgb(0,0,0)"/>
<rect x="84.20" y="250.38" width="4.25" height="4.27" fill="rgb(255,255,255)"/>
<rect x="88.45" y="250.38" width="4.25" height="4.27" fill="rgb(240,240,240)"/>
<rect x="92.69" y="250.38" width="4.25" height="4.27" fill="rgb(0,0,0)"/>
<rect x="96.94" y="250.38" width="4.25" height="4.27" fill="rgb(200,200,200)"/>
<rect x="101.19" y="250.38" width="4.25" height="4.27" fill="rgb(130,130,130)"/>
<rect x="105.44" y="250.38" width="4.25" height="4.27" fill="rgb(190,190,190)"/>
<rect x="109.68" y="250.38" width="4.25" height="4.27" fill="rgb(230,230,230)"/>
<rect x="113.93" y="250.38" width="4.25" height="4.27" fill="rgb(0,0,0)"/>
<rect x="118.18" y="250.38" width="4.25" height="4.27" fill="rgb(0,0,0)"/>
<rect x="122.42" y="250.38" width="4.25" height="4.27" fill="rgb(210,210,210)"/>
<rect x="126.67" y="250.38" width="4.25" height="4.27" fill="rgb(190,190,190)"/>
<rect x="130.92" y="250.38" width="4.25" height="4.27" fill="rgb(0,0,0)"/>
<rect x="135.16" y="250.38" width="4.25" height="4.27" fill="rgb(0,0,0)"/>
<rect x="139.41" y="250.38" width="4.25" height="4.27" fill="rgb(0,0,0)"/>
<rect x="143.66" y="250.38" width="4.25" height="4.27" fill="rgb(0,0,0)"/>
<rect x="84.20" y="254.66" width="4.25" height="4.27" fill="rgb(255,255,255)"/>
<rect x="88.45" y="254.66" width="4.25" height="4.27" fill="rgb(40,40,40)"/>
<rect x="92.69" y="254.66" width="4.25" height="4.27" fill="rgb(0,0,0)"/>
<rect x="96.94" y="254.66" width="4.25" height="4.27" fill="rgb(0,0,0)"/>
<rect x="101.19" y="254.66" width="4.25" height="4.27" fill="rgb(180,180,180)"/>
<rect x="105.44" y="254.66" width="4.25" height="4.27" fill="rgb(0,0,0)"/>
<rect x="109.68" y="254.66" width="4.25" height="4.27" fill="rgb(220,220,220)"/>
<rect x="113.93" y="254.66" width="4.25" height="4.27" fill="rgb(100,100,100)"/>
<rect x="118.18" y="254.66" width="4.25" height="4.27" fill="rgb(0,0,0)"/>
<rect x="122.42" y="254.66" width="4.25" height="4.27" fill="rgb(0,0,0)"/>
<rect x="126.67" y="254.66" width="4.25" height="4.27" fill="rgb(0,0,0)"/>
<rect x="130.92" y="254.66" width="4.25" height="4.27" fill="rgb(130,130,130)"/>
<rect x="135.16" y="254.66" width="4.25" height="4.27" fill="rgb(200,200,200)"/>
<rect x="139.41" y="254.66" width="4.25" height="4.27" fill="rgb(170,170,170)"/>
<rect x="143.66" y="254.66" width="4.25" height="4.27" fill="rgb(0,0,0)"/>
<rect x="84.20" y="258.93" width="4.25" height="4.27" fill="rgb(255,255,255)"/>
<rect x="88.45" y="258.93" width="4.25" height="4.27" fill="rgb(0,0,0)"/>
<rect x="92.69" y="258.93" width="4.25" height="4.27" fill="rgb(110,110,110)"/>
<rect x="96.94" y="258.93" width="4.25" height="4.27" fill="rgb(0,0,0)"/>
<rect x="101.19" y="258.93" width="4.25" height="4.27" fill="rgb(110,110,110)"/>
<rect x="105.44" y="258.93" width="4.25" height="4.27" fill="rgb(50,50,50)"/>
<rect x="109.68" y="258.93" width="4.25" height="4.27" fill="rgb(230,230,230)"/>
<rect x="113.93" y="258.93" width="4.25" height="4.27" fill="rgb(90,90,90)"/>
<rect x="118.18" y="258.93" width="4.25" height="4.27" fill="rgb(0,0,0)"/>
<rect x="122.42" y="258.93" width="4.25" height="4.27" fill="rgb(50,50,50)"/>
<rect x="126.67" y="258.93" width="4.25" height="4.27" fill="rgb(0,0,0)"/>
<rect x="130.92" y="258.93" width="4.25" height="4.27" fill="rgb(220,220,220)"/>
<rect x="135.16" y="258.93" width="4.25" height="4.27" fill="rgb(200,200,200)"/>
<rect x="139.41" y="258.93" width="4.25" height="4.27" fill="rgb(190,190,190)"/>
<rect x="143.66" y="258.93" width="4.25" height="4.27" fill="rgb(180,180,180)"/>
<rect x="84.20" y="263.20" width="4.25" height="4.27" fill="rgb(255,255,255)"/>
<rect x="88.45" y="263.20" width="4.25" height="4.27" fill="rgb(0,0,0)"/>
<rect x="92.69" y="263.20" width="4.25" height="4.27" fill="rgb(220,220,220)"/>
<rect x="96.94" y="263.20" width="4.25" height="4.27" fill="rgb(0,0,0)"/>
<rect x="101.19" y="263.20" width="4.25" height="4.27" fill="rgb(60,60,60)"/>
<rect x="105.44" y="263.20" width="4.25" height="4.27" fill="rgb(50,50,50)"/>
<rect x="109.68" y="263.20" width="4.25" height="4.27" fill="rgb(210,210,210)"/>
<rect x="113.93" y="263.20" width="4.25" height="4.27" fill="rgb(0,0,0)"/>
<rect x="118.18" y="263.20" width="4.25" height="4.27" fill="rgb(0,0,0)"/>
<rect x="122.42" y="263.20" width="4.25" height="4.27" fill="rgb(120,120,120)"/>
<rect x="126.67" y="263.20" width="4.25" height="4.27" fill="rgb(0,0,0)"/>
<rect x="130.92" y="263.20" width="4.25" height="4.27" fill="rgb(0,0,0)"/>
<rect x="135.16" y="263.20" width="4.25" height="4.27" fill="rgb(50,50,50)"/>
<rect x="139.41" y="263.20" width="4.25" height="4.27" fill="rgb(100,100,100)"/>
<rect x="143.66" y="263.20" width="4.25" height="4.27" fill="rgb(230,230,230)"/>
<rect x="84.20" y="267.48" width="4.25" height="4.27" fill="rgb(255,255,255)"/>
<rect x="88.45" y="267.48" width="4.25" height="4.27" fill="rgb(0,0,0)"/>
<rect x="92.69" y="267.48" width="4.25" height="4.27" fill="rgb(0,0,0)"/>
<rect x="96.94" y="267.48" width="4.25" height="4.27" fill="rgb(0,0,0)"/>
<rect x="101.19" y="267.48" width="4.25" height="4.27" fill="rgb(0,0,0)"/>
<rect x="105.44" y="267.48" width="4.25" height="4.27" fill="rgb(0,0,0)"/>
<rect x="109.68" y="267.48" width="4.25" height="4.27" fill="rgb(190,190,190)"/>
<rect x="113.93" y="267.48" width="4.25" height="4.27" fill="rgb(150,150,150)"/>
<rect x="118.18" y="267.48" width="4.25" height="4.27" fill="rgb(0,0,0)"/>
<rect x="122.42" y="267.48" width="4.25" height="4.27" fill="rgb(110,110,110)"/>
<rect x="126.67" y="267.48" width="4.25" height="4.27" fill="rgb(240,240,240)"/>
<rect x="130.92" y="267.48" width="4.25" height="4.27" fill="rgb(40,40,40)"/>
<rect x="135.16" y="267.48" width="4.25" height="4.27" fill="rgb(50,50,50)"/>
<rect x="139.41" y="267.48" width="4.25" height="4.27" fill="rgb(90,90,90)"/>
<rect x="143.66" y="267.48" width="4.25" height="4.27" fill="rgb(0,0,0)"/>
<rect x="84.20" y="271.75" width="4.25" height="4.27" fill="rgb(255,255,255)"/>
<rect x="88.45" y="271.75" width="4.25" height="4.27" fill="rgb(0,0,0)"/>
<rect x="92.69" y="271.75" width="4.25" height="4.27" fill="rgb(0,0,0)"/>
<rect x="96.94" y="271.75" width="4.25" height="4.27" fill="rgb(0,0,0)"/>
<rect x="101.19" y="271.75" width="4.25" height="4.27" fill="rgb(230,230,230)"/>
<rect x="105.44" y="271.75" width="4.25" height="4.27" fill="rgb(0,0,0)"/>
<rect x="109.68" y="271.75" width="4.25" height="4.27" fill="rgb(120,120,120)"/>
<rect x="113.93" y="271.75" width="4.25" height="4.27" fill="rgb(230,230,230)"/>
<rect x="118.18" y="271.75" width="4.25" height="4.27" fill="rgb(0,0,0)"/>
<rect x="122.42" y="271.75" width="4.25" height="4.27" fill="rgb(70,70,70)"/>
<rect x="126.67" y="271.75" width="4.25" height="4.27" fill="rgb(0,0,0)"/>
<rect x="130.92" y="271.75" width="4.25" height="4.27" fill="rgb(0,0,0)"/>
<rect x="135.16" y="271.75" width="4.25" height="4.27" fill="rgb(40,40,40)"/>
<rect x="139.41" y="271.75" width="4.25" height="4.27" fill="rgb(0,0,0)"/>
<rect x="143.66" y="271.75" width="4.25" height="4.27" fill="rgb(0,0,0)"/>
<rect x="84.20" y="276.02" width="4.25" height="4.27" fill="rgb(255,255,255)"/>
<rect x="88.45" y="276.02" width="4.25" height="4.27" fill="rgb(0,0,0)"/>
<rect x="92.69" y="276.02" width="4.25" height="4.27" fill="rgb(0,0,0)"/>
<rect x="96.94" y="276.02" width="4.25" height="4.27" fill="rgb(0,0,0)"/>
<rect x="101.19" y="276.02" width="4.25" height="4.27" fill="rgb(60,60,60)"/>
<rect x="105.44" y="276.02" width="4.25" height="4.27" fill="rgb(70,70,70)"/>
<rect x="109.68" y="276.02" width="4.25" height="4.27" fill="rgb(240,240,240)"/>
<rect x="113.93" y="276.02" width="4.25" height="4.27" fill="rgb(40,40,40)"/>
<rect x="118.18" y="276.02" width="4.25" height="4.27" fill="rgb(240,240,240)"/>
<rect x="122.42" y="276.02" width="4.25" height="4.27" fill="rgb(0,0,0)"/>
<rect x="126.67" y="276.02" width="4.25" height="4.27" fill="rgb(0,0,0)"/>
<rect x="130.92" y="276.02" width="4.25" height="4.27" fill="rgb(0,0,0)"/>
<rect x="135.16" y="276.02" width="4.25" height="4.27" fill="rgb(120,120,120)"/>
<rect x="139.41" y="276.02" width="4.25" height="4.27" fill="rgb(70,70,70)"/>
<rect x="143.66" y="276.02" width="4.25" height="4.27" fill="rgb(0,0,0)"/>
</g>
<rect x="84.9" y="216.9" width="62.5" height="63.2" fill="none" stroke="#111" stroke-width="1.4"/>
<text x="117.4" y="293.6" font-size="13.9" fill="#222" text-anchor="middle" font-weight="normal" >Initial</text>
<rect x="158.8" y="287.5" width="64.3" height="63.7" fill="#fff"/>
<g shape-rendering="crispEdges">
<rect x="159.30" y="288.00" width="4.23" height="4.22" fill="rgb(250,250,250)"/>
<rect x="163.53" y="288.00" width="4.23" height="4.22" fill="rgb(255,255,255)"/>
<rect x="167.76" y="288.00" width="4.23" height="4.22" fill="rgb(255,255,255)"/>
<rect x="171.99" y="288.00" width="4.23" height="4.22" fill="rgb(255,255,255)"/>
<rect x="176.22" y="288.00" width="4.23" height="4.22" fill="rgb(255,255,255)"/>
<rect x="180.45" y="288.00" width="4.23" height="4.22" fill="rgb(255,255,255)"/>
<rect x="184.68" y="288.00" width="4.23" height="4.22" fill="rgb(255,255,255)"/>
<rect x="188.91" y="288.00" width="4.23" height="4.22" fill="rgb(255,255,255)"/>
<rect x="193.14" y="288.00" width="4.23" height="4.22" fill="rgb(255,255,255)"/>
<rect x="197.37" y="288.00" width="4.23" height="4.22" fill="rgb(255,255,255)"/>
<rect x="201.60" y="288.00" width="4.23" height="4.22" fill="rgb(255,255,255)"/>
<rect x="205.83" y="288.00" width="4.23" height="4.22" fill="rgb(255,255,255)"/>
<rect x="210.06" y="288.00" width="4.23" height="4.22" fill="rgb(255,255,255)"/>
<rect x="214.29" y="288.00" width="4.23" height="4.22" fill="rgb(255,255,255)"/>
<rect x="218.52" y="288.00" width="4.23" height="4.22" fill="rgb(255,255,255)"/>
<rect x="159.30" y="292.22" width="4.23" height="4.22" fill="rgb(255,255,255)"/>
<rect x="163.53" y="292.22" width="4.23" height="4.22" fill="rgb(242,242,242)"/>
<rect x="167.76" y="292.22" width="4.23" height="4.22" fill="rgb(250,250,250)"/>
<rect x="171.99" y="292.22" width="4.23" height="4.22" fill="rgb(250,250,250)"/>
<rect x="176.22" y="292.22" width="4.23" height="4.22" fill="rgb(250,250,250)"/>
<rect x="180.45" y="292.22" width="4.23" height="4.22" fill="rgb(238,238,238)"/>
<rect x="184.68" y="292.22" width="4.23" height="4.22" fill="rgb(250,250,250)"/>
<rect x="188.91" y="292.22" width="4.23" height="4.22" fill="rgb(250,250,250)"/>
<rect x="193.14" y="292.22" width="4.23" height="4.22" fill="rgb(250,250,250)"/>
<rect x="197.37" y="292.22" width="4.23" height="4.22" fill="rgb(249,249,249)"/>
<rect x="201.60" y="292.22" width="4.23" height="4.22" fill="rgb(250,250,250)"/>
<rect x="205.83" y="292.22" width="4.23" height="4.22" fill="rgb(250,250,250)"/>
<rect x="210.06" y="292.22" width="4.23" height="4.22" fill="rgb(250,250,250)"/>
<rect x="214.29" y="292.22" width="4.23" height="4.22" fill="rgb(250,250,250)"/>
<rect x="218.52" y="292.22" width="4.23" height="4.22" fill="rgb(242,242,242)"/>
<rect x="159.30" y="296.44" width="4.23" height="4.22" fill="rgb(255,255,255)"/>
<rect x="163.53" y="296.44" width="4.23" height="4.22" fill="rgb(250,250,250)"/>
<rect x="167.76" y="296.44" width="4.23" height="4.22" fill="rgb(250,250,250)"/>
<rect x="171.99" y="296.44" width="4.23" height="4.22" fill="rgb(250,250,250)"/>
<rect x="176.22" y="296.44" width="4.23" height="4.22" fill="rgb(250,250,250)"/>
<rect x="180.45" y="296.44" width="4.23" height="4.22" fill="rgb(238,238,238)"/>
<rect x="184.68" y="296.44" width="4.23" height="4.22" fill="rgb(250,250,250)"/>
<rect x="188.91" y="296.44" width="4.23" height="4.22" fill="rgb(246,246,246)"/>
<rect x="193.14" y="296.44" width="4.23" height="4.22" fill="rgb(250,250,250)"/>
<rect x="197.37" y="296.44" width="4.23" height="4.22" fill="rgb(250,250,250)"/>
<rect x="201.60" y="296.44" width="4.23" height="4.22" fill="rgb(250,250,250)"/>
<rect x="205.83" y="296.44" width="4.23" height="4.22" fill="rgb(250,250,250)"/>
<rect x="210.06" y="296.44" width="4.23" height="4.22" fill="rgb(250,250,250)"/>
<rect x="214.29" y="296.44" width="4.23" height="4.22" fill="rgb(250,250,250)"/>
<rect x="218.52" y="296.44" width="4.23" height="4.22" fill="rgb(250,250,250)"/>
<rect x="159.30" y="300.66" width="4.23" height="4.22" fill="rgb(255,255,255)"/>
<rect x="163.53" y="300.66" width="4.23" height="4.22" fill="rgb(250,250,250)"/>
<rect x="167.76" y="300.66" width="4.23" height="4.22" fill="rgb(250,250,250)"/>
<rect x="171.99" y="300.66" width="4.23" height="4.22" fill="rgb(250,250,250)"/>
<rect x="176.22" y="300.66" width="4.23" height="4.22" fill="rgb(242,242,242)"/>
<rect x="180.45" y="300.66" width="4.23" height="4.22" fill="rgb(250,250,250)"/>
<rect x="184.68" y="300.66" width="4.23" height="4.22" fill="rgb(250,250,250)"/>
<rect x="188.91" y="300.66" width="4.23" height="4.22" fill="rgb(250,250,250)"/>
<rect x="193.14" y="300.66" width="4.23" height="4.22" fill="rgb(250,250,250)"/>
<rect x="197.37" y="300.66" width="4.23" height="4.22" fill="rgb(250,250,250)"/>
<rect x="201.60" y="300.66" width="4.23" height="4.22" fill="rgb(250,250,250)"/>
<rect x="205.83" y="300.66" width="4.23" height="4.22" fill="rgb(250,250,250)"/>
<rect x="210.06" y="300.66" width="4.23" height="4.22" fill="rgb(250,250,250)"/>
<rect x="214.29" y="300.66" width="4.23" height="4.22" fill="rgb(250,250,250)"/>
<rect x="218.52" y="300.66" width="4.23" height="4.22" fill="rgb(250,250,250)"/>
<rect x="159.30" y="304.88" width="4.23" height="4.22" fill="rgb(255,255,255)"/>
<rect x="163.53" y="304.88" width="4.23" height="4.22" fill="rgb(246,246,246)"/>
<rect x="167.76" y="304.88" width="4.23" height="4.22" fill="rgb(250,250,250)"/>
<rect x="171.99" y="304.88" width="4.23" height="4.22" fill="rgb(250,250,250)"/>
<rect x="176.22" y="304.88" width="4.23" height="4.22" fill="rgb(250,250,250)"/>
<rect x="180.45" y="304.88" width="4.23" height="4.22" fill="rgb(250,250,250)"/>
<rect x="184.68" y="304.88" width="4.23" height="4.22" fill="rgb(250,250,250)"/>
<rect x="188.91" y="304.88" width="4.23" height="4.22" fill="rgb(246,246,246)"/>
<rect x="193.14" y="304.88" width="4.23" height="4.22" fill="rgb(250,250,250)"/>
<rect x="197.37" y="304.88" width="4.23" height="4.22" fill="rgb(250,250,250)"/>
<rect x="201.60" y="304.88" width="4.23" height="4.22" fill="rgb(250,250,250)"/>
<rect x="205.83" y="304.88" width="4.23" height="4.22" fill="rgb(250,250,250)"/>
<rect x="210.06" y="304.88" width="4.23" height="4.22" fill="rgb(246,246,246)"/>
<rect x="214.29" y="304.88" width="4.23" height="4.22" fill="rgb(250,250,250)"/>
<rect x="218.52" y="304.88" width="4.23" height="4.22" fill="rgb(249,249,249)"/>
<rect x="159.30" y="309.10" width="4.23" height="4.22" fill="rgb(255,255,255)"/>
<rect x="163.53" y="309.10" width="4.23" height="4.22" fill="rgb(238,238,238)"/>
<rect x="167.76" y="309.10" width="4.23" height="4.22" fill="rgb(250,250,250)"/>
<rect x="171.99" y="309.10" width="4.23" height="4.22" fill="rgb(246,246,246)"/>
<rect x="176.22" y="309.10" width="4.23" height="4.22" fill="rgb(250,250,250)"/>
<rect x="180.45" y="309.10" width="4.23" height="4.22" fill="rgb(250,250,250)"/>
<rect x="184.68" y="309.10" width="4.23" height="4.22" fill="rgb(238,238,238)"/>
<rect x="188.91" y="309.10" width="4.23" height="4.22" fill="rgb(250,250,250)"/>
<rect x="193.14" y="309.10" width="4.23" height="4.22" fill="rgb(250,250,250)"/>
<rect x="197.37" y="309.10" width="4.23" height="4.22" fill="rgb(250,250,250)"/>
<rect x="201.60" y="309.10" width="4.23" height="4.22" fill="rgb(250,250,250)"/>
<rect x="205.83" y="309.10" width="4.23" height="4.22" fill="rgb(250,250,250)"/>
<rect x="210.06" y="309.10" width="4.23" height="4.22" fill="rgb(238,238,238)"/>
<rect x="214.29" y="309.10" width="4.23" height="4.22" fill="rgb(250,250,250)"/>
<rect x="218.52" y="309.10" width="4.23" height="4.22" fill="rgb(238,238,238)"/>
<rect x="159.30" y="313.32" width="4.23" height="4.22" fill="rgb(255,255,255)"/>
<rect x="163.53" y="313.32" width="4.23" height="4.22" fill="rgb(250,250,250)"/>
<rect x="167.76" y="313.32" width="4.23" height="4.22" fill="rgb(250,250,250)"/>
<rect x="171.99" y="313.32" width="4.23" height="4.22" fill="rgb(250,250,250)"/>
<rect x="176.22" y="313.32" width="4.23" height="4.22" fill="rgb(250,250,250)"/>
<rect x="180.45" y="313.32" width="4.23" height="4.22" fill="rgb(250,250,250)"/>
<rect x="184.68" y="313.32" width="4.23" height="4.22" fill="rgb(250,250,250)"/>
<rect x="188.91" y="313.32" width="4.23" height="4.22" fill="rgb(250,250,250)"/>
<rect x="193.14" y="313.32" width="4.23" height="4.22" fill="rgb(250,250,250)"/>
<rect x="197.37" y="313.32" width="4.23" height="4.22" fill="rgb(249,249,249)"/>
<rect x="201.60" y="313.32" width="4.23" height="4.22" fill="rgb(250,250,250)"/>
<rect x="205.83" y="313.32" width="4.23" height="4.22" fill="rgb(250,250,250)"/>
<rect x="210.06" y="313.32" width="4.23" height="4.22" fill="rgb(250,250,250)"/>
<rect x="214.29" y="313.32" width="4.23" height="4.22" fill="rgb(250,250,250)"/>
<rect x="218.52" y="313.32" width="4.23" height="4.22" fill="rgb(250,250,250)"/>
<rect x="159.30" y="317.54" width="4.23" height="4.22" fill="rgb(255,255,255)"/>
<rect x="163.53" y="317.54" width="4.23" height="4.22" fill="rgb(246,246,246)"/>
<rect x="167.76" y="317.54" width="4.23" height="4.22" fill="rgb(250,250,250)"/>
<rect x="171.99" y="317.54" width="4.23" height="4.22" fill="rgb(250,250,250)"/>
<rect x="176.22" y="317.54" width="4.23" height="4.22" fill="rgb(246,246,246)"/>
<rect x="180.45" y="317.54" width="4.23" height="4.22" fill="rgb(250,250,250)"/>
<rect x="184.68" y="317.54" width="4.23" height="4.22" fill="rgb(250,250,250)"/>
<rect x="188.91" y="317.54" width="4.23" height="4.22" fill="rgb(250,250,250)"/>
<rect x="193.14" y="317.54" width="4.23" height="4.22" fill="rgb(250,250,250)"/>
<rect x="197.37" y="317.54" width="4.23" height="4.22" fill="rgb(250,250,250)"/>
<rect x="201.60" y="317.54" width="4.23" height="4.22" fill="rgb(250,250,250)"/>
<rect x="205.83" y="317.54" width="4.23" height="4.22" fill="rgb(250,250,250)"/>
<rect x="210.06" y="317.54" width="4.23" height="4.22" fill="rgb(250,250,250)"/>
<rect x="214.29" y="317.54" width="4.23" height="4.22" fill="rgb(250,250,250)"/>
<rect x="218.52" y="317.54" width="4.23" height="4.22" fill="rgb(246,246,246)"/>
<rect x="159.30" y="321.76" width="4.23" height="4.22" fill="rgb(255,255,255)"/>
<rect x="163.53" y="321.76" width="4.23" height="4.22" fill="rgb(250,250,250)"/>
<rect x="167.76" y="321.76" width="4.23" height="4.22" fill="rgb(250,250,250)"/>
<rect x="171.99" y="321.76" width="4.23" height="4.22" fill="rgb(250,250,250)"/>
<rect x="176.22" y="321.76" width="4.23" height="4.22" fill="rgb(250,250,250)"/>
<rect x="180.45" y="321.76" width="4.23" height="4.22" fill="rgb(250,250,250)"/>
<rect x="184.68" y="321.76" width="4.23" height="4.22" fill="rgb(238,238,238)"/>
<rect x="188.91" y="321.76" width="4.23" height="4.22" fill="rgb(250,250,250)"/>
<rect x="193.14" y="321.76" width="4.23" height="4.22" fill="rgb(246,246,246)"/>
<rect x="197.37" y="321.76" width="4.23" height="4.22" fill="rgb(250,250,250)"/>
<rect x="201.60" y="321.76" width="4.23" height="4.22" fill="rgb(250,250,250)"/>
<rect x="205.83" y="321.76" width="4.23" height="4.22" fill="rgb(250,250,250)"/>
<rect x="210.06" y="321.76" width="4.23" height="4.22" fill="rgb(250,250,250)"/>
<rect x="214.29" y="321.76" width="4.23" height="4.22" fill="rgb(250,250,250)"/>
<rect x="218.52" y="321.76" width="4.23" height="4.22" fill="rgb(250,250,250)"/>
<rect x="159.30" y="325.98" width="4.23" height="4.22" fill="rgb(255,255,255)"/>
<rect x="163.53" y="325.98" width="4.23" height="4.22" fill="rgb(250,250,250)"/>
<rect x="167.76" y="325.98" width="4.23" height="4.22" fill="rgb(250,250,250)"/>
<rect x="171.99" y="325.98" width="4.23" height="4.22" fill="rgb(250,250,250)"/>
<rect x="176.22" y="325.98" width="4.23" height="4.22" fill="rgb(250,250,250)"/>
<rect x="180.45" y="325.98" width="4.23" height="4.22" fill="rgb(250,250,250)"/>
<rect x="184.68" y="325.98" width="4.23" height="4.22" fill="rgb(242,242,242)"/>
<rect x="188.91" y="325.98" width="4.23" height="4.22" fill="rgb(250,250,250)"/>
<rect x="193.14" y="325.98" width="4.23" height="4.22" fill="rgb(246,246,246)"/>
<rect x="197.37" y="325.98" width="4.23" height="4.22" fill="rgb(242,242,242)"/>
<rect x="201.60" y="325.98" width="4.23" height="4.22" fill="rgb(250,250,250)"/>
<rect x="205.83" y="325.98" width="4.23" height="4.22" fill="rgb(250,250,250)"/>
<rect x="210.06" y="325.98" width="4.23" height="4.22" fill="rgb(246,246,246)"/>
<rect x="214.29" y="325.98" width="4.23" height="4.22" fill="rgb(250,250,250)"/>
<rect x="218.52" y="325.98" width="4.23" height="4.22" fill="rgb(250,250,250)"/>
<rect x="159.30" y="330.20" width="4.23" height="4.22" fill="rgb(255,255,255)"/>
<rect x="163.53" y="330.20" width="4.23" height="4.22" fill="rgb(242,242,242)"/>
<rect x="167.76" y="330.20" width="4.23" height="4.22" fill="rgb(242,242,242)"/>
<rect x="171.99" y="330.20" width="4.23" height="4.22" fill="rgb(250,250,250)"/>
<rect x="176.22" y="330.20" width="4.23" height="4.22" fill="rgb(250,250,250)"/>
<rect x="180.45" y="330.20" width="4.23" height="4.22" fill="rgb(238,238,238)"/>
<rect x="184.68" y="330.20" width="4.23" height="4.22" fill="rgb(242,242,242)"/>
<rect x="188.91" y="330.20" width="4.23" height="4.22" fill="rgb(250,250,250)"/>
<rect x="193.14" y="330.20" width="4.23" height="4.22" fill="rgb(250,250,250)"/>
<rect x="197.37" y="330.20" width="4.23" height="4.22" fill="rgb(250,250,250)"/>
<rect x="201.60" y="330.20" width="4.23" height="4.22" fill="rgb(250,250,250)"/>
<rect x="205.83" y="330.20" width="4.23" height="4.22" fill="rgb(250,250,250)"/>
<rect x="210.06" y="330.20" width="4.23" height="4.22" fill="rgb(250,250,250)"/>
<rect x="214.29" y="330.20" width="4.23" height="4.22" fill="rgb(246,246,246)"/>
<rect x="218.52" y="330.20" width="4.23" height="4.22" fill="rgb(250,250,250)"/>
<rect x="159.30" y="334.42" width="4.23" height="4.22" fill="rgb(255,255,255)"/>
<rect x="163.53" y="334.42" width="4.23" height="4.22" fill="rgb(250,250,250)"/>
<rect x="167.76" y="334.42" width="4.23" height="4.22" fill="rgb(250,250,250)"/>
<rect x="171.99" y="334.42" width="4.23" height="4.22" fill="rgb(250,250,250)"/>
<rect x="176.22" y="334.42" width="4.23" height="4.22" fill="rgb(250,250,250)"/>
<rect x="180.45" y="334.42" width="4.23" height="4.22" fill="rgb(250,250,250)"/>
<rect x="184.68" y="334.42" width="4.23" height="4.22" fill="rgb(250,250,250)"/>
<rect x="188.91" y="334.42" width="4.23" height="4.22" fill="rgb(250,250,250)"/>
<rect x="193.14" y="334.42" width="4.23" height="4.22" fill="rgb(249,249,249)"/>
<rect x="197.37" y="334.42" width="4.23" height="4.22" fill="rgb(238,238,238)"/>
<rect x="201.60" y="334.42" width="4.23" height="4.22" fill="rgb(250,250,250)"/>
<rect x="205.83" y="334.42" width="4.23" height="4.22" fill="rgb(250,250,250)"/>
<rect x="210.06" y="334.42" width="4.23" height="4.22" fill="rgb(250,250,250)"/>
<rect x="214.29" y="334.42" width="4.23" height="4.22" fill="rgb(250,250,250)"/>
<rect x="218.52" y="334.42" width="4.23" height="4.22" fill="rgb(250,250,250)"/>
<rect x="159.30" y="338.64" width="4.23" height="4.22" fill="rgb(255,255,255)"/>
<rect x="163.53" y="338.64" width="4.23" height="4.22" fill="rgb(250,250,250)"/>
<rect x="167.76" y="338.64" width="4.23" height="4.22" fill="rgb(250,250,250)"/>
<rect x="171.99" y="338.64" width="4.23" height="4.22" fill="rgb(249,249,249)"/>
<rect x="176.22" y="338.64" width="4.23" height="4.22" fill="rgb(250,250,250)"/>
<rect x="180.45" y="338.64" width="4.23" height="4.22" fill="rgb(250,250,250)"/>
<rect x="184.68" y="338.64" width="4.23" height="4.22" fill="rgb(250,250,250)"/>
<rect x="188.91" y="338.64" width="4.23" height="4.22" fill="rgb(250,250,250)"/>
<rect x="193.14" y="338.64" width="4.23" height="4.22" fill="rgb(250,250,250)"/>
<rect x="197.37" y="338.64" width="4.23" height="4.22" fill="rgb(238,238,238)"/>
<rect x="201.60" y="338.64" width="4.23" height="4.22" fill="rgb(250,250,250)"/>
<rect x="205.83" y="338.64" width="4.23" height="4.22" fill="rgb(250,250,250)"/>
<rect x="210.06" y="338.64" width="4.23" height="4.22" fill="rgb(242,242,242)"/>
<rect x="214.29" y="338.64" width="4.23" height="4.22" fill="rgb(242,242,242)"/>
<rect x="218.52" y="338.64" width="4.23" height="4.22" fill="rgb(250,250,250)"/>
<rect x="159.30" y="342.86" width="4.23" height="4.22" fill="rgb(255,255,255)"/>
<rect x="163.53" y="342.86" width="4.23" height="4.22" fill="rgb(250,250,250)"/>
<rect x="167.76" y="342.86" width="4.23" height="4.22" fill="rgb(250,250,250)"/>
<rect x="171.99" y="342.86" width="4.23" height="4.22" fill="rgb(238,238,238)"/>
<rect x="176.22" y="342.86" width="4.23" height="4.22" fill="rgb(246,246,246)"/>
<rect x="180.45" y="342.86" width="4.23" height="4.22" fill="rgb(238,238,238)"/>
<rect x="184.68" y="342.86" width="4.23" height="4.22" fill="rgb(250,250,250)"/>
<rect x="188.91" y="342.86" width="4.23" height="4.22" fill="rgb(250,250,250)"/>
<rect x="193.14" y="342.86" width="4.23" height="4.22" fill="rgb(250,250,250)"/>
<rect x="197.37" y="342.86" width="4.23" height="4.22" fill="rgb(250,250,250)"/>
<rect x="201.60" y="342.86" width="4.23" height="4.22" fill="rgb(250,250,250)"/>
<rect x="205.83" y="342.86" width="4.23" height="4.22" fill="rgb(250,250,250)"/>
<rect x="210.06" y="342.86" width="4.23" height="4.22" fill="rgb(250,250,250)"/>
<rect x="214.29" y="342.86" width="4.23" height="4.22" fill="rgb(250,250,250)"/>
<rect x="218.52" y="342.86" width="4.23" height="4.22" fill="rgb(250,250,250)"/>
<rect x="159.30" y="347.08" width="4.23" height="4.22" fill="rgb(255,255,255)"/>
<rect x="163.53" y="347.08" width="4.23" height="4.22" fill="rgb(250,250,250)"/>
<rect x="167.76" y="347.08" width="4.23" height="4.22" fill="rgb(238,238,238)"/>
<rect x="171.99" y="347.08" width="4.23" height="4.22" fill="rgb(246,246,246)"/>
<rect x="176.22" y="347.08" width="4.23" height="4.22" fill="rgb(250,250,250)"/>
<rect x="180.45" y="347.08" width="4.23" height="4.22" fill="rgb(250,250,250)"/>
<rect x="184.68" y="347.08" width="4.23" height="4.22" fill="rgb(250,250,250)"/>
<rect x="188.91" y="347.08" width="4.23" height="4.22" fill="rgb(249,249,249)"/>
<rect x="193.14" y="347.08" width="4.23" height="4.22" fill="rgb(246,246,246)"/>
<rect x="197.37" y="347.08" width="4.23" height="4.22" fill="rgb(249,249,249)"/>
<rect x="201.60" y="347.08" width="4.23" height="4.22" fill="rgb(246,246,246)"/>
<rect x="205.83" y="347.08" width="4.23" height="4.22" fill="rgb(250,250,250)"/>
<rect x="210.06" y="347.08" width="4.23" height="4.22" fill="rgb(238,238,238)"/>
<rect x="214.29" y="347.08" width="4.23" height="4.22" fill="rgb(250,250,250)"/>
<rect x="218.52" y="347.08" width="4.23" height="4.22" fill="rgb(238,238,238)"/>
</g>
<rect x="159.4" y="288.1" width="63.3" height="62.7" fill="none" stroke="#111" stroke-width="1.7"/>
<rect x="159.75" y="288.45" width="3.4" height="3.4" fill="#000"/>
<rect x="168.21" y="292.67" width="3.4" height="3.4" fill="#000"/>
<rect x="189.36" y="296.89" width="3.4" height="3.4" fill="#000"/>
<rect x="214.74" y="301.11" width="3.4" height="3.4" fill="#000"/>
<rect x="185.13" y="305.33" width="3.4" height="3.4" fill="#000"/>
<rect x="202.05" y="309.55" width="3.4" height="3.4" fill="#000"/>
<rect x="180.90" y="313.77" width="3.4" height="3.4" fill="#000"/>
<rect x="206.28" y="317.99" width="3.4" height="3.4" fill="#000"/>
<rect x="176.67" y="322.21" width="3.4" height="3.4" fill="#000"/>
<rect x="210.51" y="326.43" width="3.4" height="3.4" fill="#000"/>
<rect x="218.97" y="330.65" width="3.4" height="3.4" fill="#000"/>
<rect x="193.59" y="334.87" width="3.4" height="3.4" fill="#000"/>
<rect x="163.98" y="339.09" width="3.4" height="3.4" fill="#000"/>
<rect x="197.82" y="343.31" width="3.4" height="3.4" fill="#000"/>
<rect x="172.44" y="347.53" width="3.4" height="4.4" fill="#000"/>
<text x="194.3" y="365.2" font-size="13.9" fill="#222" text-anchor="middle" font-weight="normal" >Final</text>
<text x="232" y="211.2" font-size="14" fill="#222" text-anchor="start" font-weight="bold" >(d)</text>
<rect x="259.6" y="215" width="19.2" height="8.6" fill="#2d2e8e" stroke="#222" stroke-width="0.8"/>
<rect x="259.6" y="232.5" width="19.2" height="8.6" fill="#ae7e51" stroke="#333" stroke-width="0.8"/>
<text x="280.6" y="223.9" font-size="13.9" fill="#222" text-anchor="start" font-weight="normal" >Heuristic algorithm</text>
<text x="280.6" y="242.0" font-size="13.9" fill="#222" text-anchor="start" font-weight="normal" >ME oxide/nanomagnet model</text>
<rect x="302.6" y="250.8" width="16.7" height="91" fill="#2d2e8e" stroke="#1c1c60" stroke-width="0.6"/>
<rect x="320.6" y="250.8" width="17.2" height="91" fill="#ae7e51" stroke="#3a2a1a" stroke-width="0.6"/>
<rect x="348.3" y="250.8" width="16.7" height="91" fill="#2d2e8e" stroke="#1c1c60" stroke-width="0.6"/>
<rect x="366.1" y="277.1" width="17.3" height="64.7" fill="#ae7e51" stroke="#3a2a1a" stroke-width="0.8"/>
<rect x="297.2" y="250.9" width="91.3" height="90.9" fill="none" stroke="#151515" stroke-width="1.4"/>
<line x1="297" y1="268.9" x2="299" y2="268.9" stroke="#2a2a2a" stroke-width="0.8"/>
<line x1="297" y1="287.2" x2="299" y2="287.2" stroke="#2a2a2a" stroke-width="0.8"/>
<line x1="297" y1="305.5" x2="299" y2="305.5" stroke="#2a2a2a" stroke-width="0.8"/>
<line x1="297" y1="323.8" x2="299" y2="323.8" stroke="#2a2a2a" stroke-width="0.8"/>
<line x1="342.9" y1="341.8" x2="342.9" y2="339.8" stroke="#2a2a2a" stroke-width="0.9"/>
<text x="295.6" y="261.8" font-size="13.9" fill="#222" text-anchor="end" font-weight="normal" >100</text>
<text x="295.6" y="280.0" font-size="13.9" fill="#222" text-anchor="end" font-weight="normal" >80</text>
<text x="295.6" y="298.2" font-size="13.9" fill="#222" text-anchor="end" font-weight="normal" >60</text>
<text x="295.6" y="316.4" font-size="13.9" fill="#222" text-anchor="end" font-weight="normal" >40</text>
<text x="295.6" y="334.6" font-size="13.9" fill="#222" text-anchor="end" font-weight="normal" >20</text>
<text x="295.6" y="352.8" font-size="13.9" fill="#222" text-anchor="end" font-weight="normal" >0</text>
<text x="270.1" y="300.7" font-size="13.9" fill="#222" text-anchor="middle" font-weight="normal" transform="rotate(-90 270.1 300.7)">Accuracy (X100%)</text>
<text x="317.3" y="354.9" font-size="13.9" fill="#222" text-anchor="middle" font-weight="normal" >15X15</text>
<text x="368.2" y="354.9" font-size="13.9" fill="#222" text-anchor="middle" font-weight="normal" >26X26</text>
<text x="336.6" y="369.3" font-size="13.9" fill="#222" text-anchor="middle" font-weight="normal" >Problem size</text>
<line x1="379" y1="365.8" x2="396.5" y2="365.8" stroke="#222" stroke-width="1.2"/>
<path d="M389,360.3 L396.8,365.8 L389,371.3" fill="none" stroke="#222" stroke-width="1.2"/>
<text x="418.2" y="208.2" font-size="14" fill="#222" text-anchor="start" font-weight="bold" >(e)</text>
<path d="M528.40,233.10 L528.90,233.37 L529.40,233.28 L529.90,232.15 L530.40,233.60 L530.90,231.94 L531.40,232.50 L531.90,236.06 L532.40,248.36 L532.90,250.86 L533.40,250.02 L533.90,248.39 L534.40,251.62 L534.90,253.05 L535.40,253.48 L535.90,259.99 L536.40,263.11 L536.90,266.00 L537.40,268.45 L537.90,269.79 L538.40,270.12 L538.90,271.25 L539.40,274.55 L539.90,276.86 L540.40,277.71 L540.90,277.48 L541.40,281.67 L541.90,282.81 L542.40,286.37 L542.90,286.73 L543.40,290.06 L543.90,291.18 L544.40,292.86 L544.90,292.98 L545.40,292.33 L545.90,295.35 L546.40,295.12 L546.90,296.04 L547.40,297.58 L547.90,298.00 L548.40,299.10 L548.90,299.58 L549.40,299.86 L549.90,301.29 L550.40,298.52 L550.90,302.21 L551.40,302.29 L551.90,303.50 L552.40,300.99 L552.90,303.19 L553.40,302.84 L553.90,305.20 L554.40,304.25 L554.90,304.81 L555.40,305.36 L555.90,306.67 L556.40,306.99 L556.90,306.68 L557.40,306.93 L557.90,307.09 L558.40,307.31 L558.90,308.34 L559.40,307.99 L559.90,307.70 L560.40,308.89 L560.90,308.65 L561.40,309.50 L561.90,309.66 L562.40,309.58 L562.90,309.78 L563.40,310.72 L563.90,310.38 L564.40,311.07 L564.90,310.49 L565.40,311.03 L565.90,311.54 L566.40,312.00 L566.90,311.86 L567.40,312.58 L567.90,312.33 L568.40,313.21 L568.90,313.58 L569.40,313.24 L569.90,313.04 L570.40,314.18 L570.90,314.05 L571.40,314.28 L571.90,314.52 L572.40,314.56 L572.90,314.68 L573.40,314.88 L573.90,314.33 L574.40,315.00 L574.90,314.92 L575.40,314.80 L575.90,315.07 L576.40,315.57 L576.90,314.87 L577.40,316.00 L577.90,316.43 L578.40,316.34 L578.90,316.39 L579.40,316.34 L579.90,315.87 L580.40,316.60 L580.90,317.01 L581.40,317.85 L581.90,317.38 L582.40,317.77 L582.90,317.35 L583.40,317.96 L583.90,318.55 L584.40,318.01 L584.90,317.04 L585.40,318.57 L585.90,318.73 L586.40,318.59 L586.90,318.57 L587.40,319.51 L587.90,319.63 L588.40,319.38 L588.90,319.93 L589.40,319.47 L589.90,320.21 L590.40,319.62 L590.90,319.58 L591.40,320.06 L591.90,320.53 L592.40,319.83 L592.90,320.19 L593.40,320.79 L593.90,320.36 L594.40,321.18 L594.90,320.89 L595.40,321.01 L595.90,320.54 L596.40,320.85 L596.90,320.97 L597.40,321.26 L597.90,321.18 L598.40,321.28 L598.90,321.45 L599.40,321.98 L599.90,321.19 L600.40,321.70 L600.90,322.07 L601.40,321.93 L601.90,321.93 L602.40,322.48 L602.90,322.02 L603.40,321.88 L603.90,322.60 L604.40,322.28 L604.90,322.99 L605.40,322.62 L605.90,322.69 L606.40,322.40 L606.90,322.91 L607.40,323.17 L607.90,322.43 L608.40,323.43 L608.90,322.47 L609.40,322.78 L609.90,323.56 L610.40,322.80 L610.90,323.63 L611.40,323.38 L611.90,322.98 L612.40,322.58 L612.90,322.49 L613.40,323.72 L613.90,323.16 L614.40,323.39 L614.90,323.62 L615.40,322.95 L615.90,323.38 L616.40,323.79 L616.90,323.89 L617.40,323.65 L617.50,326.55 L617.00,327.01 L616.50,326.64 L616.00,326.43 L615.50,327.48 L615.00,326.83 L614.50,326.44 L614.00,326.67 L613.50,327.60 L613.00,326.21 L612.50,327.09 L612.00,327.20 L611.50,326.77 L611.00,326.23 L610.50,326.43 L610.00,326.39 L609.50,326.39 L609.00,326.16 L608.50,326.66 L608.00,326.43 L607.50,326.50 L607.00,326.54 L606.50,326.37 L606.00,326.91 L605.50,326.40 L605.00,325.90 L604.50,326.77 L604.00,326.28 L603.50,325.93 L603.00,325.97 L602.50,326.17 L602.00,325.92 L601.50,326.02 L601.00,326.01 L600.50,326.99 L600.00,326.04 L599.50,326.34 L599.00,326.10 L598.50,325.72 L598.00,325.88 L597.50,326.29 L597.00,325.94 L596.50,325.59 L596.00,326.47 L595.50,325.78 L595.00,325.73 L594.50,326.15 L594.00,325.64 L593.50,326.33 L593.00,325.79 L592.50,326.10 L592.00,326.27 L591.50,326.28 L591.00,325.63 L590.50,326.07 L590.00,326.31 L589.50,325.06 L589.00,325.01 L588.50,325.32 L588.00,326.00 L587.50,324.95 L587.00,325.13 L586.50,324.73 L586.00,324.69 L585.50,325.51 L585.00,325.38 L584.50,324.40 L584.00,324.86 L583.50,324.68 L583.00,325.00 L582.50,324.48 L582.00,325.00 L581.50,324.14 L581.00,324.05 L580.50,324.81 L580.00,324.33 L579.50,323.86 L579.00,324.36 L578.50,323.71 L578.00,323.60 L577.50,323.78 L577.00,323.47 L576.50,323.62 L576.00,323.81 L575.50,323.83 L575.00,323.64 L574.50,323.83 L574.00,323.90 L573.50,323.51 L573.00,323.55 L572.50,322.93 L572.00,322.69 L571.50,324.01 L571.00,322.95 L570.50,322.24 L570.00,323.04 L569.50,322.68 L569.00,322.39 L568.50,323.33 L568.00,322.77 L567.50,321.79 L567.00,321.83 L566.50,322.11 L566.00,323.13 L565.50,322.59 L565.00,321.92 L564.50,322.28 L564.00,321.92 L563.50,323.67 L563.00,323.75 L562.50,321.10 L562.00,321.54 L561.50,321.29 L561.00,321.01 L560.50,321.25 L560.00,321.36 L559.50,320.70 L559.00,321.41 L558.50,321.10 L558.00,320.37 L557.50,320.76 L557.00,319.50 L556.50,319.39 L556.00,320.29 L555.50,319.96 L555.00,319.62 L554.50,319.35 L554.00,320.10 L553.50,318.92 L553.00,318.41 L552.50,317.68 L552.00,317.94 L551.50,318.15 L551.00,318.31 L550.50,317.99 L550.00,317.41 L549.50,317.35 L549.00,316.83 L548.50,316.41 L548.00,316.42 L547.50,315.84 L547.00,315.70 L546.50,315.65 L546.00,317.05 L545.50,314.46 L545.00,314.39 L544.50,313.89 L544.00,313.15 L543.50,312.61 L543.00,311.70 L542.50,311.64 L542.00,310.32 L541.50,310.07 L541.00,310.62 L540.50,309.68 L540.00,308.41 L539.50,308.33 L539.00,307.31 L538.50,306.32 L538.00,305.65 L537.50,305.85 L537.00,304.70 L536.50,305.13 L536.00,303.51 L535.50,302.35 L535.00,300.89 L534.50,300.63 L534.00,298.66 L533.50,298.73 L533.00,298.14 L532.50,295.99 L532.00,294.16 L531.50,293.70 L531.00,293.97 L530.50,290.76 L530.00,288.21 L529.50,283.23 L529.00,282.11 L528.50,282.64Z" fill="#3c55aa"/>
<path d="M528.1,232.9 H623.8 V328.6 H528.1 Z" fill="none" stroke="#151515" stroke-width="1.4"/>
<line x1="528.2" y1="272" x2="530.2" y2="272" stroke="#2a2a2a" stroke-width="0.8"/>
<line x1="528.2" y1="310.4" x2="530.2" y2="310.4" stroke="#2a2a2a" stroke-width="0.8"/>
<line x1="607.8" y1="328.2" x2="607.8" y2="326.2" stroke="#2a2a2a" stroke-width="0.8"/>
<text x="523.3" y="239.0" font-size="13.9" fill="#222" text-anchor="end" font-weight="normal" >15000</text>
<text x="523.3" y="277.3" font-size="13.9" fill="#222" text-anchor="end" font-weight="normal" >10000</text>
<text x="523.3" y="315.7" font-size="13.9" fill="#222" text-anchor="end" font-weight="normal" >5000</text>
<text x="528.0" y="347.0" font-size="13.9" fill="#222" text-anchor="middle" font-weight="normal" >0</text>
<text x="607.8" y="347.0" font-size="13.9" fill="#222" text-anchor="middle" font-weight="normal" >5</text>
<text x="482.2" y="284" font-size="13.9" fill="#222" text-anchor="middle" font-weight="normal" transform="rotate(-90 482.2 284)">Hamiltonian, H</text>
<text x="498.3" y="368.5" font-size="13.9" fill="#222" text-anchor="start" font-weight="normal" >Iteration no (X10<tspan font-size="7.2" dy="-4.6">4</tspan><tspan dy="4.6">).</tspan></text>
<rect x="545.1" y="210.8" width="61.88" height="61.36" fill="rgb(0,0,0)"/>
<g>
<rect x="547.48" y="210.80" width="2.73" height="2.71" fill="rgb(255,255,255)"/>
<rect x="549.86" y="210.80" width="2.73" height="2.71" fill="rgb(255,255,255)"/>
<rect x="552.24" y="210.80" width="2.73" height="2.71" fill="rgb(255,255,255)"/>
<rect x="554.62" y="210.80" width="2.73" height="2.71" fill="rgb(255,255,255)"/>
<rect x="557.00" y="210.80" width="2.73" height="2.71" fill="rgb(255,255,255)"/>
<rect x="559.38" y="210.80" width="2.73" height="2.71" fill="rgb(255,255,255)"/>
<rect x="561.76" y="210.80" width="2.73" height="2.71" fill="rgb(255,255,255)"/>
<rect x="564.14" y="210.80" width="2.73" height="2.71" fill="rgb(255,255,255)"/>
<rect x="566.52" y="210.80" width="2.73" height="2.71" fill="rgb(255,255,255)"/>
<rect x="568.90" y="210.80" width="2.73" height="2.71" fill="rgb(255,255,255)"/>
<rect x="571.28" y="210.80" width="2.73" height="2.71" fill="rgb(255,255,255)"/>
<rect x="573.66" y="210.80" width="2.73" height="2.71" fill="rgb(255,255,255)"/>
<rect x="576.04" y="210.80" width="2.73" height="2.71" fill="rgb(255,255,255)"/>
<rect x="578.42" y="210.80" width="2.73" height="2.71" fill="rgb(255,255,255)"/>
<rect x="580.80" y="210.80" width="2.73" height="2.71" fill="rgb(255,255,255)"/>
<rect x="583.18" y="210.80" width="2.73" height="2.71" fill="rgb(255,255,255)"/>
<rect x="585.56" y="210.80" width="2.73" height="2.71" fill="rgb(255,255,255)"/>
<rect x="587.94" y="210.80" width="2.73" height="2.71" fill="rgb(255,255,255)"/>
<rect x="590.32" y="210.80" width="2.73" height="2.71" fill="rgb(255,255,255)"/>
<rect x="592.70" y="210.80" width="2.73" height="2.71" fill="rgb(255,255,255)"/>
<rect x="595.08" y="210.80" width="2.73" height="2.71" fill="rgb(255,255,255)"/>
<rect x="597.46" y="210.80" width="2.73" height="2.71" fill="rgb(255,255,255)"/>
<rect x="599.84" y="210.80" width="2.73" height="2.71" fill="rgb(255,255,255)"/>
<rect x="602.22" y="210.80" width="2.73" height="2.71" fill="rgb(255,255,255)"/>
<rect x="604.60" y="210.80" width="2.73" height="2.71" fill="rgb(255,255,255)"/>
<rect x="545.10" y="213.16" width="2.73" height="2.71" fill="rgb(255,255,255)"/>
<rect x="547.48" y="213.16" width="2.73" height="2.71" fill="rgb(200,200,200)"/>
<rect x="554.62" y="213.16" width="2.73" height="2.71" fill="rgb(220,220,220)"/>
<rect x="557.00" y="213.16" width="2.73" height="2.71" fill="rgb(70,70,70)"/>
<rect x="559.38" y="213.16" width="2.73" height="2.71" fill="rgb(255,255,255)"/>
<rect x="566.52" y="213.16" width="2.73" height="2.71" fill="rgb(100,100,100)"/>
<rect x="585.56" y="213.16" width="2.73" height="2.71" fill="rgb(200,200,200)"/>
<rect x="587.94" y="213.16" width="2.73" height="2.71" fill="rgb(255,255,255)"/>
<rect x="590.32" y="213.16" width="2.73" height="2.71" fill="rgb(200,200,200)"/>
<rect x="597.46" y="213.16" width="2.73" height="2.71" fill="rgb(130,130,130)"/>
<rect x="604.60" y="213.16" width="2.73" height="2.71" fill="rgb(220,220,220)"/>
<rect x="545.10" y="215.52" width="2.73" height="2.71" fill="rgb(255,255,255)"/>
<rect x="549.86" y="215.52" width="2.73" height="2.71" fill="rgb(130,130,130)"/>
<rect x="552.24" y="215.52" width="2.73" height="2.71" fill="rgb(100,100,100)"/>
<rect x="554.62" y="215.52" width="2.73" height="2.71" fill="rgb(220,220,220)"/>
<rect x="587.94" y="215.52" width="2.73" height="2.71" fill="rgb(100,100,100)"/>
<rect x="590.32" y="215.52" width="2.73" height="2.71" fill="rgb(200,200,200)"/>
<rect x="599.84" y="215.52" width="2.73" height="2.71" fill="rgb(240,240,240)"/>
<rect x="602.22" y="215.52" width="2.73" height="2.71" fill="rgb(240,240,240)"/>
<rect x="545.10" y="217.88" width="2.73" height="2.71" fill="rgb(255,255,255)"/>
<rect x="547.48" y="217.88" width="2.73" height="2.71" fill="rgb(200,200,200)"/>
<rect x="554.62" y="217.88" width="2.73" height="2.71" fill="rgb(220,220,220)"/>
<rect x="561.76" y="217.88" width="2.73" height="2.71" fill="rgb(160,160,160)"/>
<rect x="564.14" y="217.88" width="2.73" height="2.71" fill="rgb(220,220,220)"/>
<rect x="571.28" y="217.88" width="2.73" height="2.71" fill="rgb(240,240,240)"/>
<rect x="583.18" y="217.88" width="2.73" height="2.71" fill="rgb(130,130,130)"/>
<rect x="585.56" y="217.88" width="2.73" height="2.71" fill="rgb(200,200,200)"/>
<rect x="590.32" y="217.88" width="2.73" height="2.71" fill="rgb(200,200,200)"/>
<rect x="592.70" y="217.88" width="2.73" height="2.71" fill="rgb(130,130,130)"/>
<rect x="602.22" y="217.88" width="2.73" height="2.71" fill="rgb(160,160,160)"/>
<rect x="545.10" y="220.24" width="2.73" height="2.71" fill="rgb(255,255,255)"/>
<rect x="547.48" y="220.24" width="2.73" height="2.71" fill="rgb(220,220,220)"/>
<rect x="549.86" y="220.24" width="2.73" height="2.71" fill="rgb(200,200,200)"/>
<rect x="552.24" y="220.24" width="2.73" height="2.71" fill="rgb(255,255,255)"/>
<rect x="557.00" y="220.24" width="2.73" height="2.71" fill="rgb(200,200,200)"/>
<rect x="561.76" y="220.24" width="2.73" height="2.71" fill="rgb(240,240,240)"/>
<rect x="571.28" y="220.24" width="2.73" height="2.71" fill="rgb(255,255,255)"/>
<rect x="573.66" y="220.24" width="2.73" height="2.71" fill="rgb(70,70,70)"/>
<rect x="583.18" y="220.24" width="2.73" height="2.71" fill="rgb(200,200,200)"/>
<rect x="597.46" y="220.24" width="2.73" height="2.71" fill="rgb(130,130,130)"/>
<rect x="602.22" y="220.24" width="2.73" height="2.71" fill="rgb(100,100,100)"/>
<rect x="604.60" y="220.24" width="2.73" height="2.71" fill="rgb(130,130,130)"/>
<rect x="545.10" y="222.60" width="2.73" height="2.71" fill="rgb(255,255,255)"/>
<rect x="557.00" y="222.60" width="2.73" height="2.71" fill="rgb(240,240,240)"/>
<rect x="561.76" y="222.60" width="2.73" height="2.71" fill="rgb(100,100,100)"/>
<rect x="564.14" y="222.60" width="2.73" height="2.71" fill="rgb(240,240,240)"/>
<rect x="571.28" y="222.60" width="2.73" height="2.71" fill="rgb(160,160,160)"/>
<rect x="573.66" y="222.60" width="2.73" height="2.71" fill="rgb(200,200,200)"/>
<rect x="602.22" y="222.60" width="2.73" height="2.71" fill="rgb(200,200,200)"/>
<rect x="604.60" y="222.60" width="2.73" height="2.71" fill="rgb(255,255,255)"/>
<rect x="545.10" y="224.96" width="2.73" height="2.71" fill="rgb(255,255,255)"/>
<rect x="557.00" y="224.96" width="2.73" height="2.71" fill="rgb(160,160,160)"/>
<rect x="559.38" y="224.96" width="2.73" height="2.71" fill="rgb(100,100,100)"/>
<rect x="566.52" y="224.96" width="2.73" height="2.71" fill="rgb(255,255,255)"/>
<rect x="568.90" y="224.96" width="2.73" height="2.71" fill="rgb(240,240,240)"/>
<rect x="592.70" y="224.96" width="2.73" height="2.71" fill="rgb(160,160,160)"/>
<rect x="545.10" y="227.32" width="2.73" height="2.71" fill="rgb(255,255,255)"/>
<rect x="547.48" y="227.32" width="2.73" height="2.71" fill="rgb(160,160,160)"/>
<rect x="552.24" y="227.32" width="2.73" height="2.71" fill="rgb(220,220,220)"/>
<rect x="554.62" y="227.32" width="2.73" height="2.71" fill="rgb(240,240,240)"/>
<rect x="568.90" y="227.32" width="2.73" height="2.71" fill="rgb(255,255,255)"/>
<rect x="571.28" y="227.32" width="2.73" height="2.71" fill="rgb(130,130,130)"/>
<rect x="578.42" y="227.32" width="2.73" height="2.71" fill="rgb(200,200,200)"/>
<rect x="583.18" y="227.32" width="2.73" height="2.71" fill="rgb(130,130,130)"/>
<rect x="595.08" y="227.32" width="2.73" height="2.71" fill="rgb(130,130,130)"/>
<rect x="599.84" y="227.32" width="2.73" height="2.71" fill="rgb(255,255,255)"/>
<rect x="545.10" y="229.68" width="2.73" height="2.71" fill="rgb(255,255,255)"/>
<rect x="547.48" y="229.68" width="2.73" height="2.71" fill="rgb(100,100,100)"/>
<rect x="554.62" y="229.68" width="2.73" height="2.71" fill="rgb(220,220,220)"/>
<rect x="557.00" y="229.68" width="2.73" height="2.71" fill="rgb(240,240,240)"/>
<rect x="559.38" y="229.68" width="2.73" height="2.71" fill="rgb(200,200,200)"/>
<rect x="573.66" y="229.68" width="2.73" height="2.71" fill="rgb(240,240,240)"/>
<rect x="576.04" y="229.68" width="2.73" height="2.71" fill="rgb(240,240,240)"/>
<rect x="583.18" y="229.68" width="2.73" height="2.71" fill="rgb(255,255,255)"/>
<rect x="587.94" y="229.68" width="2.73" height="2.71" fill="rgb(220,220,220)"/>
<rect x="595.08" y="229.68" width="2.73" height="2.71" fill="rgb(160,160,160)"/>
<rect x="599.84" y="229.68" width="2.73" height="2.71" fill="rgb(200,200,200)"/>
<rect x="602.22" y="229.68" width="2.73" height="2.71" fill="rgb(220,220,220)"/>
<rect x="604.60" y="229.68" width="2.73" height="2.71" fill="rgb(255,255,255)"/>
<rect x="545.10" y="232.04" width="2.73" height="2.71" fill="rgb(255,255,255)"/>
<rect x="557.00" y="232.04" width="2.73" height="2.71" fill="rgb(130,130,130)"/>
<rect x="559.38" y="232.04" width="2.73" height="2.71" fill="rgb(240,240,240)"/>
<rect x="561.76" y="232.04" width="2.73" height="2.71" fill="rgb(70,70,70)"/>
<rect x="566.52" y="232.04" width="2.73" height="2.71" fill="rgb(200,200,200)"/>
<rect x="568.90" y="232.04" width="2.73" height="2.71" fill="rgb(200,200,200)"/>
<rect x="573.66" y="232.04" width="2.73" height="2.71" fill="rgb(240,240,240)"/>
<rect x="578.42" y="232.04" width="2.73" height="2.71" fill="rgb(255,255,255)"/>
<rect x="580.80" y="232.04" width="2.73" height="2.71" fill="rgb(160,160,160)"/>
<rect x="583.18" y="232.04" width="2.73" height="2.71" fill="rgb(200,200,200)"/>
<rect x="585.56" y="232.04" width="2.73" height="2.71" fill="rgb(130,130,130)"/>
<rect x="599.84" y="232.04" width="2.73" height="2.71" fill="rgb(220,220,220)"/>
<rect x="602.22" y="232.04" width="2.73" height="2.71" fill="rgb(70,70,70)"/>
<rect x="545.10" y="234.40" width="2.73" height="2.71" fill="rgb(255,255,255)"/>
<rect x="552.24" y="234.40" width="2.73" height="2.71" fill="rgb(240,240,240)"/>
<rect x="557.00" y="234.40" width="2.73" height="2.71" fill="rgb(255,255,255)"/>
<rect x="566.52" y="234.40" width="2.73" height="2.71" fill="rgb(70,70,70)"/>
<rect x="580.80" y="234.40" width="2.73" height="2.71" fill="rgb(240,240,240)"/>
<rect x="583.18" y="234.40" width="2.73" height="2.71" fill="rgb(240,240,240)"/>
<rect x="592.70" y="234.40" width="2.73" height="2.71" fill="rgb(255,255,255)"/>
<rect x="595.08" y="234.40" width="2.73" height="2.71" fill="rgb(130,130,130)"/>
<rect x="545.10" y="236.76" width="2.73" height="2.71" fill="rgb(255,255,255)"/>
<rect x="576.04" y="236.76" width="2.73" height="2.71" fill="rgb(130,130,130)"/>
<rect x="583.18" y="236.76" width="2.73" height="2.71" fill="rgb(220,220,220)"/>
<rect x="595.08" y="236.76" width="2.73" height="2.71" fill="rgb(220,220,220)"/>
<rect x="597.46" y="236.76" width="2.73" height="2.71" fill="rgb(160,160,160)"/>
<rect x="602.22" y="236.76" width="2.73" height="2.71" fill="rgb(160,160,160)"/>
<rect x="604.60" y="236.76" width="2.73" height="2.71" fill="rgb(160,160,160)"/>
<rect x="545.10" y="239.12" width="2.73" height="2.71" fill="rgb(255,255,255)"/>
<rect x="564.14" y="239.12" width="2.73" height="2.71" fill="rgb(240,240,240)"/>
<rect x="571.28" y="239.12" width="2.73" height="2.71" fill="rgb(220,220,220)"/>
<rect x="583.18" y="239.12" width="2.73" height="2.71" fill="rgb(220,220,220)"/>
<rect x="545.10" y="241.48" width="2.73" height="2.71" fill="rgb(255,255,255)"/>
<rect x="552.24" y="241.48" width="2.73" height="2.71" fill="rgb(240,240,240)"/>
<rect x="557.00" y="241.48" width="2.73" height="2.71" fill="rgb(240,240,240)"/>
<rect x="559.38" y="241.48" width="2.73" height="2.71" fill="rgb(100,100,100)"/>
<rect x="561.76" y="241.48" width="2.73" height="2.71" fill="rgb(240,240,240)"/>
<rect x="564.14" y="241.48" width="2.73" height="2.71" fill="rgb(240,240,240)"/>
<rect x="571.28" y="241.48" width="2.73" height="2.71" fill="rgb(255,255,255)"/>
<rect x="573.66" y="241.48" width="2.73" height="2.71" fill="rgb(130,130,130)"/>
<rect x="580.80" y="241.48" width="2.73" height="2.71" fill="rgb(220,220,220)"/>
<rect x="583.18" y="241.48" width="2.73" height="2.71" fill="rgb(130,130,130)"/>
<rect x="590.32" y="241.48" width="2.73" height="2.71" fill="rgb(200,200,200)"/>
<rect x="595.08" y="241.48" width="2.73" height="2.71" fill="rgb(160,160,160)"/>
<rect x="545.10" y="243.84" width="2.73" height="2.71" fill="rgb(255,255,255)"/>
<rect x="547.48" y="243.84" width="2.73" height="2.71" fill="rgb(255,255,255)"/>
<rect x="559.38" y="243.84" width="2.73" height="2.71" fill="rgb(100,100,100)"/>
<rect x="561.76" y="243.84" width="2.73" height="2.71" fill="rgb(255,255,255)"/>
<rect x="573.66" y="243.84" width="2.73" height="2.71" fill="rgb(100,100,100)"/>
<rect x="576.04" y="243.84" width="2.73" height="2.71" fill="rgb(240,240,240)"/>
<rect x="578.42" y="243.84" width="2.73" height="2.71" fill="rgb(130,130,130)"/>
<rect x="580.80" y="243.84" width="2.73" height="2.71" fill="rgb(70,70,70)"/>
<rect x="585.56" y="243.84" width="2.73" height="2.71" fill="rgb(70,70,70)"/>
<rect x="592.70" y="243.84" width="2.73" height="2.71" fill="rgb(70,70,70)"/>
<rect x="595.08" y="243.84" width="2.73" height="2.71" fill="rgb(200,200,200)"/>
<rect x="599.84" y="243.84" width="2.73" height="2.71" fill="rgb(200,200,200)"/>
<rect x="602.22" y="243.84" width="2.73" height="2.71" fill="rgb(100,100,100)"/>
<rect x="545.10" y="246.20" width="2.73" height="2.71" fill="rgb(255,255,255)"/>
<rect x="547.48" y="246.20" width="2.73" height="2.71" fill="rgb(70,70,70)"/>
<rect x="549.86" y="246.20" width="2.73" height="2.71" fill="rgb(160,160,160)"/>
<rect x="561.76" y="246.20" width="2.73" height="2.71" fill="rgb(240,240,240)"/>
<rect x="578.42" y="246.20" width="2.73" height="2.71" fill="rgb(255,255,255)"/>
<rect x="585.56" y="246.20" width="2.73" height="2.71" fill="rgb(200,200,200)"/>
<rect x="590.32" y="246.20" width="2.73" height="2.71" fill="rgb(160,160,160)"/>
<rect x="597.46" y="246.20" width="2.73" height="2.71" fill="rgb(240,240,240)"/>
<rect x="604.60" y="246.20" width="2.73" height="2.71" fill="rgb(130,130,130)"/>
<rect x="545.10" y="248.56" width="2.73" height="2.71" fill="rgb(255,255,255)"/>
<rect x="554.62" y="248.56" width="2.73" height="2.71" fill="rgb(220,220,220)"/>
<rect x="557.00" y="248.56" width="2.73" height="2.71" fill="rgb(160,160,160)"/>
<rect x="559.38" y="248.56" width="2.73" height="2.71" fill="rgb(255,255,255)"/>
<rect x="564.14" y="248.56" width="2.73" height="2.71" fill="rgb(255,255,255)"/>
<rect x="568.90" y="248.56" width="2.73" height="2.71" fill="rgb(255,255,255)"/>
<rect x="571.28" y="248.56" width="2.73" height="2.71" fill="rgb(130,130,130)"/>
<rect x="576.04" y="248.56" width="2.73" height="2.71" fill="rgb(240,240,240)"/>
<rect x="585.56" y="248.56" width="2.73" height="2.71" fill="rgb(220,220,220)"/>
<rect x="587.94" y="248.56" width="2.73" height="2.71" fill="rgb(220,220,220)"/>
<rect x="590.32" y="248.56" width="2.73" height="2.71" fill="rgb(130,130,130)"/>
<rect x="592.70" y="248.56" width="2.73" height="2.71" fill="rgb(220,220,220)"/>
<rect x="599.84" y="248.56" width="2.73" height="2.71" fill="rgb(130,130,130)"/>
<rect x="545.10" y="250.92" width="2.73" height="2.71" fill="rgb(255,255,255)"/>
<rect x="552.24" y="250.92" width="2.73" height="2.71" fill="rgb(100,100,100)"/>
<rect x="554.62" y="250.92" width="2.73" height="2.71" fill="rgb(70,70,70)"/>
<rect x="559.38" y="250.92" width="2.73" height="2.71" fill="rgb(130,130,130)"/>
<rect x="561.76" y="250.92" width="2.73" height="2.71" fill="rgb(160,160,160)"/>
<rect x="571.28" y="250.92" width="2.73" height="2.71" fill="rgb(240,240,240)"/>
<rect x="576.04" y="250.92" width="2.73" height="2.71" fill="rgb(100,100,100)"/>
<rect x="545.10" y="253.28" width="2.73" height="2.71" fill="rgb(255,255,255)"/>
<rect x="549.86" y="253.28" width="2.73" height="2.71" fill="rgb(200,200,200)"/>
<rect x="554.62" y="253.28" width="2.73" height="2.71" fill="rgb(200,200,200)"/>
<rect x="559.38" y="253.28" width="2.73" height="2.71" fill="rgb(240,240,240)"/>
<rect x="561.76" y="253.28" width="2.73" height="2.71" fill="rgb(240,240,240)"/>
<rect x="568.90" y="253.28" width="2.73" height="2.71" fill="rgb(160,160,160)"/>
<rect x="576.04" y="253.28" width="2.73" height="2.71" fill="rgb(70,70,70)"/>
<rect x="585.56" y="253.28" width="2.73" height="2.71" fill="rgb(130,130,130)"/>
<rect x="590.32" y="253.28" width="2.73" height="2.71" fill="rgb(130,130,130)"/>
<rect x="592.70" y="253.28" width="2.73" height="2.71" fill="rgb(240,240,240)"/>
<rect x="599.84" y="253.28" width="2.73" height="2.71" fill="rgb(100,100,100)"/>
<rect x="604.60" y="253.28" width="2.73" height="2.71" fill="rgb(100,100,100)"/>
<rect x="545.10" y="255.64" width="2.73" height="2.71" fill="rgb(255,255,255)"/>
<rect x="547.48" y="255.64" width="2.73" height="2.71" fill="rgb(240,240,240)"/>
<rect x="554.62" y="255.64" width="2.73" height="2.71" fill="rgb(200,200,200)"/>
<rect x="557.00" y="255.64" width="2.73" height="2.71" fill="rgb(220,220,220)"/>
<rect x="566.52" y="255.64" width="2.73" height="2.71" fill="rgb(220,220,220)"/>
<rect x="568.90" y="255.64" width="2.73" height="2.71" fill="rgb(240,240,240)"/>
<rect x="573.66" y="255.64" width="2.73" height="2.71" fill="rgb(160,160,160)"/>
<rect x="580.80" y="255.64" width="2.73" height="2.71" fill="rgb(70,70,70)"/>
<rect x="583.18" y="255.64" width="2.73" height="2.71" fill="rgb(130,130,130)"/>
<rect x="585.56" y="255.64" width="2.73" height="2.71" fill="rgb(160,160,160)"/>
<rect x="590.32" y="255.64" width="2.73" height="2.71" fill="rgb(200,200,200)"/>
<rect x="604.60" y="255.64" width="2.73" height="2.71" fill="rgb(255,255,255)"/>
<rect x="545.10" y="258.00" width="2.73" height="2.71" fill="rgb(255,255,255)"/>
<rect x="552.24" y="258.00" width="2.73" height="2.71" fill="rgb(255,255,255)"/>
<rect x="566.52" y="258.00" width="2.73" height="2.71" fill="rgb(200,200,200)"/>
<rect x="576.04" y="258.00" width="2.73" height="2.71" fill="rgb(200,200,200)"/>
<rect x="585.56" y="258.00" width="2.73" height="2.71" fill="rgb(255,255,255)"/>
<rect x="599.84" y="258.00" width="2.73" height="2.71" fill="rgb(240,240,240)"/>
<rect x="545.10" y="260.36" width="2.73" height="2.71" fill="rgb(255,255,255)"/>
<rect x="547.48" y="260.36" width="2.73" height="2.71" fill="rgb(255,255,255)"/>
<rect x="580.80" y="260.36" width="2.73" height="2.71" fill="rgb(160,160,160)"/>
<rect x="583.18" y="260.36" width="2.73" height="2.71" fill="rgb(100,100,100)"/>
<rect x="587.94" y="260.36" width="2.73" height="2.71" fill="rgb(160,160,160)"/>
<rect x="599.84" y="260.36" width="2.73" height="2.71" fill="rgb(100,100,100)"/>
<rect x="545.10" y="262.72" width="2.73" height="2.71" fill="rgb(255,255,255)"/>
<rect x="547.48" y="262.72" width="2.73" height="2.71" fill="rgb(220,220,220)"/>
<rect x="549.86" y="262.72" width="2.73" height="2.71" fill="rgb(160,160,160)"/>
<rect x="557.00" y="262.72" width="2.73" height="2.71" fill="rgb(130,130,130)"/>
<rect x="559.38" y="262.72" width="2.73" height="2.71" fill="rgb(200,200,200)"/>
<rect x="566.52" y="262.72" width="2.73" height="2.71" fill="rgb(220,220,220)"/>
<rect x="580.80" y="262.72" width="2.73" height="2.71" fill="rgb(160,160,160)"/>
<rect x="595.08" y="262.72" width="2.73" height="2.71" fill="rgb(220,220,220)"/>
<rect x="597.46" y="262.72" width="2.73" height="2.71" fill="rgb(240,240,240)"/>
<rect x="545.10" y="265.08" width="2.73" height="2.71" fill="rgb(255,255,255)"/>
<rect x="547.48" y="265.08" width="2.73" height="2.71" fill="rgb(160,160,160)"/>
<rect x="557.00" y="265.08" width="2.73" height="2.71" fill="rgb(240,240,240)"/>
<rect x="559.38" y="265.08" width="2.73" height="2.71" fill="rgb(130,130,130)"/>
<rect x="566.52" y="265.08" width="2.73" height="2.71" fill="rgb(100,100,100)"/>
<rect x="571.28" y="265.08" width="2.73" height="2.71" fill="rgb(100,100,100)"/>
<rect x="573.66" y="265.08" width="2.73" height="2.71" fill="rgb(220,220,220)"/>
<rect x="576.04" y="265.08" width="2.73" height="2.71" fill="rgb(220,220,220)"/>
<rect x="578.42" y="265.08" width="2.73" height="2.71" fill="rgb(70,70,70)"/>
<rect x="580.80" y="265.08" width="2.73" height="2.71" fill="rgb(200,200,200)"/>
<rect x="592.70" y="265.08" width="2.73" height="2.71" fill="rgb(255,255,255)"/>
<rect x="597.46" y="265.08" width="2.73" height="2.71" fill="rgb(70,70,70)"/>
<rect x="602.22" y="265.08" width="2.73" height="2.71" fill="rgb(255,255,255)"/>
<rect x="545.10" y="267.44" width="2.73" height="2.71" fill="rgb(255,255,255)"/>
<rect x="552.24" y="267.44" width="2.73" height="2.71" fill="rgb(100,100,100)"/>
<rect x="559.38" y="267.44" width="2.73" height="2.71" fill="rgb(240,240,240)"/>
<rect x="561.76" y="267.44" width="2.73" height="2.71" fill="rgb(255,255,255)"/>
<rect x="566.52" y="267.44" width="2.73" height="2.71" fill="rgb(160,160,160)"/>
<rect x="573.66" y="267.44" width="2.73" height="2.71" fill="rgb(255,255,255)"/>
<rect x="576.04" y="267.44" width="2.73" height="2.71" fill="rgb(240,240,240)"/>
<rect x="578.42" y="267.44" width="2.73" height="2.71" fill="rgb(255,255,255)"/>
<rect x="580.80" y="267.44" width="2.73" height="2.71" fill="rgb(200,200,200)"/>
<rect x="592.70" y="267.44" width="2.73" height="2.71" fill="rgb(70,70,70)"/>
<rect x="599.84" y="267.44" width="2.73" height="2.71" fill="rgb(240,240,240)"/>
<rect x="602.22" y="267.44" width="2.73" height="2.71" fill="rgb(130,130,130)"/>
<rect x="604.60" y="267.44" width="2.73" height="2.71" fill="rgb(160,160,160)"/>
<rect x="545.10" y="269.80" width="2.73" height="2.71" fill="rgb(255,255,255)"/>
<rect x="549.86" y="269.80" width="2.73" height="2.71" fill="rgb(100,100,100)"/>
<rect x="552.24" y="269.80" width="2.73" height="2.71" fill="rgb(130,130,130)"/>
<rect x="557.00" y="269.80" width="2.73" height="2.71" fill="rgb(160,160,160)"/>
<rect x="559.38" y="269.80" width="2.73" height="2.71" fill="rgb(200,200,200)"/>
<rect x="564.14" y="269.80" width="2.73" height="2.71" fill="rgb(200,200,200)"/>
<rect x="578.42" y="269.80" width="2.73" height="2.71" fill="rgb(100,100,100)"/>
<rect x="583.18" y="269.80" width="2.73" height="2.71" fill="rgb(220,220,220)"/>
<rect x="585.56" y="269.80" width="2.73" height="2.71" fill="rgb(200,200,200)"/>
<rect x="587.94" y="269.80" width="2.73" height="2.71" fill="rgb(160,160,160)"/>
<rect x="604.60" y="269.80" width="2.73" height="2.71" fill="rgb(255,255,255)"/>
</g>
<rect x="547.48" y="210.8" width="59.5" height="2.36" fill="#fff"/>
<rect x="545.1" y="213.16" width="2.38" height="58" fill="#fff"/>
<rect x="545.1" y="210.8" width="62" height="60.4" fill="none" stroke="#0a0a0a" stroke-width="2"/>
<rect x="617.3" y="284" width="62" height="61.2" fill="#fff"/>
<g shape-rendering="crispEdges">
<rect x="618.00" y="284.70" width="2.38" height="2.35" fill="rgb(252,252,252)"/>
<rect x="620.38" y="284.70" width="2.38" height="2.35" fill="rgb(252,252,252)"/>
<rect x="622.76" y="284.70" width="2.38" height="2.35" fill="rgb(252,252,252)"/>
<rect x="625.14" y="284.70" width="2.38" height="2.35" fill="rgb(235,235,235)"/>
<rect x="627.52" y="284.70" width="2.38" height="2.35" fill="rgb(252,252,252)"/>
<rect x="629.90" y="284.70" width="2.38" height="2.35" fill="rgb(252,252,252)"/>
<rect x="632.28" y="284.70" width="2.38" height="2.35" fill="rgb(245,245,245)"/>
<rect x="634.66" y="284.70" width="2.38" height="2.35" fill="rgb(252,252,252)"/>
<rect x="637.04" y="284.70" width="2.38" height="2.35" fill="rgb(245,245,245)"/>
<rect x="639.42" y="284.70" width="2.38" height="2.35" fill="rgb(252,252,252)"/>
<rect x="641.80" y="284.70" width="2.38" height="2.35" fill="rgb(252,252,252)"/>
<rect x="644.18" y="284.70" width="2.38" height="2.35" fill="rgb(235,235,235)"/>
<rect x="646.56" y="284.70" width="2.38" height="2.35" fill="rgb(252,252,252)"/>
<rect x="648.94" y="284.70" width="2.38" height="2.35" fill="rgb(252,252,252)"/>
<rect x="651.32" y="284.70" width="2.38" height="2.35" fill="rgb(245,245,245)"/>
<rect x="653.70" y="284.70" width="2.38" height="2.35" fill="rgb(252,252,252)"/>
<rect x="656.08" y="284.70" width="2.38" height="2.35" fill="rgb(252,252,252)"/>
<rect x="658.46" y="284.70" width="2.38" height="2.35" fill="rgb(252,252,252)"/>
<rect x="660.84" y="284.70" width="2.38" height="2.35" fill="rgb(235,235,235)"/>
<rect x="663.22" y="284.70" width="2.38" height="2.35" fill="rgb(252,252,252)"/>
<rect x="665.60" y="284.70" width="2.38" height="2.35" fill="rgb(252,252,252)"/>
<rect x="667.98" y="284.70" width="2.38" height="2.35" fill="rgb(252,252,252)"/>
<rect x="670.36" y="284.70" width="2.38" height="2.35" fill="rgb(240,240,240)"/>
<rect x="672.74" y="284.70" width="2.38" height="2.35" fill="rgb(252,252,252)"/>
<rect x="675.12" y="284.70" width="2.38" height="2.35" fill="rgb(252,252,252)"/>
<rect x="677.50" y="284.70" width="2.38" height="2.35" fill="rgb(235,235,235)"/>
<rect x="618.00" y="287.05" width="2.38" height="2.35" fill="rgb(240,240,240)"/>
<rect x="620.38" y="287.05" width="2.38" height="2.35" fill="rgb(252,252,252)"/>
<rect x="622.76" y="287.05" width="2.38" height="2.35" fill="rgb(252,252,252)"/>
<rect x="625.14" y="287.05" width="2.38" height="2.35" fill="rgb(252,252,252)"/>
<rect x="627.52" y="287.05" width="2.38" height="2.35" fill="rgb(252,252,252)"/>
<rect x="629.90" y="287.05" width="2.38" height="2.35" fill="rgb(252,252,252)"/>
<rect x="632.28" y="287.05" width="2.38" height="2.35" fill="rgb(252,252,252)"/>
<rect x="634.66" y="287.05" width="2.38" height="2.35" fill="rgb(252,252,252)"/>
<rect x="637.04" y="287.05" width="2.38" height="2.35" fill="rgb(252,252,252)"/>
<rect x="639.42" y="287.05" width="2.38" height="2.35" fill="rgb(252,252,252)"/>
<rect x="641.80" y="287.05" width="2.38" height="2.35" fill="rgb(245,245,245)"/>
<rect x="644.18" y="287.05" width="2.38" height="2.35" fill="rgb(252,252,252)"/>
<rect x="646.56" y="287.05" width="2.38" height="2.35" fill="rgb(235,235,235)"/>
<rect x="648.94" y="287.05" width="2.38" height="2.35" fill="rgb(245,245,245)"/>
<rect x="651.32" y="287.05" width="2.38" height="2.35" fill="rgb(252,252,252)"/>
<rect x="653.70" y="287.05" width="2.38" height="2.35" fill="rgb(252,252,252)"/>
<rect x="656.08" y="287.05" width="2.38" height="2.35" fill="rgb(252,252,252)"/>
<rect x="658.46" y="287.05" width="2.38" height="2.35" fill="rgb(252,252,252)"/>
<rect x="660.84" y="287.05" width="2.38" height="2.35" fill="rgb(245,245,245)"/>
<rect x="663.22" y="287.05" width="2.38" height="2.35" fill="rgb(252,252,252)"/>
<rect x="665.60" y="287.05" width="2.38" height="2.35" fill="rgb(252,252,252)"/>
<rect x="667.98" y="287.05" width="2.38" height="2.35" fill="rgb(252,252,252)"/>
<rect x="670.36" y="287.05" width="2.38" height="2.35" fill="rgb(252,252,252)"/>
<rect x="672.74" y="287.05" width="2.38" height="2.35" fill="rgb(252,252,252)"/>
<rect x="675.12" y="287.05" width="2.38" height="2.35" fill="rgb(252,252,252)"/>
<rect x="677.50" y="287.05" width="2.38" height="2.35" fill="rgb(252,252,252)"/>
<rect x="618.00" y="289.40" width="2.38" height="2.35" fill="rgb(252,252,252)"/>
<rect x="620.38" y="289.40" width="2.38" height="2.35" fill="rgb(252,252,252)"/>
<rect x="622.76" y="289.40" width="2.38" height="2.35" fill="rgb(252,252,252)"/>
<rect x="625.14" y="289.40" width="2.38" height="2.35" fill="rgb(252,252,252)"/>
<rect x="627.52" y="289.40" width="2.38" height="2.35" fill="rgb(252,252,252)"/>
<rect x="629.90" y="289.40" width="2.38" height="2.35" fill="rgb(252,252,252)"/>
<rect x="632.28" y="289.40" width="2.38" height="2.35" fill="rgb(252,252,252)"/>
<rect x="634.66" y="289.40" width="2.38" height="2.35" fill="rgb(252,252,252)"/>
<rect x="637.04" y="289.40" width="2.38" height="2.35" fill="rgb(252,252,252)"/>
<rect x="639.42" y="289.40" width="2.38" height="2.35" fill="rgb(252,252,252)"/>
<rect x="641.80" y="289.40" width="2.38" height="2.35" fill="rgb(240,240,240)"/>
<rect x="644.18" y="289.40" width="2.38" height="2.35" fill="rgb(252,252,252)"/>
<rect x="646.56" y="289.40" width="2.38" height="2.35" fill="rgb(252,252,252)"/>
<rect x="648.94" y="289.40" width="2.38" height="2.35" fill="rgb(252,252,252)"/>
<rect x="651.32" y="289.40" width="2.38" height="2.35" fill="rgb(252,252,252)"/>
<rect x="653.70" y="289.40" width="2.38" height="2.35" fill="rgb(235,235,235)"/>
<rect x="656.08" y="289.40" width="2.38" height="2.35" fill="rgb(252,252,252)"/>
<rect x="658.46" y="289.40" width="2.38" height="2.35" fill="rgb(252,252,252)"/>
<rect x="660.84" y="289.40" width="2.38" height="2.35" fill="rgb(252,252,252)"/>
<rect x="663.22" y="289.40" width="2.38" height="2.35" fill="rgb(240,240,240)"/>
<rect x="665.60" y="289.40" width="2.38" height="2.35" fill="rgb(252,252,252)"/>
<rect x="667.98" y="289.40" width="2.38" height="2.35" fill="rgb(245,245,245)"/>
<rect x="670.36" y="289.40" width="2.38" height="2.35" fill="rgb(252,252,252)"/>
<rect x="672.74" y="289.40" width="2.38" height="2.35" fill="rgb(252,252,252)"/>
<rect x="675.12" y="289.40" width="2.38" height="2.35" fill="rgb(252,252,252)"/>
<rect x="677.50" y="289.40" width="2.38" height="2.35" fill="rgb(252,252,252)"/>
<rect x="618.00" y="291.75" width="2.38" height="2.35" fill="rgb(252,252,252)"/>
<rect x="620.38" y="291.75" width="2.38" height="2.35" fill="rgb(252,252,252)"/>
<rect x="622.76" y="291.75" width="2.38" height="2.35" fill="rgb(252,252,252)"/>
<rect x="625.14" y="291.75" width="2.38" height="2.35" fill="rgb(235,235,235)"/>
<rect x="627.52" y="291.75" width="2.38" height="2.35" fill="rgb(240,240,240)"/>
<rect x="629.90" y="291.75" width="2.38" height="2.35" fill="rgb(252,252,252)"/>
<rect x="632.28" y="291.75" width="2.38" height="2.35" fill="rgb(252,252,252)"/>
<rect x="634.66" y="291.75" width="2.38" height="2.35" fill="rgb(252,252,252)"/>
<rect x="637.04" y="291.75" width="2.38" height="2.35" fill="rgb(252,252,252)"/>
<rect x="639.42" y="291.75" width="2.38" height="2.35" fill="rgb(252,252,252)"/>
<rect x="641.80" y="291.75" width="2.38" height="2.35" fill="rgb(252,252,252)"/>
<rect x="644.18" y="291.75" width="2.38" height="2.35" fill="rgb(252,252,252)"/>
<rect x="646.56" y="291.75" width="2.38" height="2.35" fill="rgb(252,252,252)"/>
<rect x="648.94" y="291.75" width="2.38" height="2.35" fill="rgb(252,252,252)"/>
<rect x="651.32" y="291.75" width="2.38" height="2.35" fill="rgb(252,252,252)"/>
<rect x="653.70" y="291.75" width="2.38" height="2.35" fill="rgb(240,240,240)"/>
<rect x="656.08" y="291.75" width="2.38" height="2.35" fill="rgb(252,252,252)"/>
<rect x="658.46" y="291.75" width="2.38" height="2.35" fill="rgb(252,252,252)"/>
<rect x="660.84" y="291.75" width="2.38" height="2.35" fill="rgb(252,252,252)"/>
<rect x="663.22" y="291.75" width="2.38" height="2.35" fill="rgb(252,252,252)"/>
<rect x="665.60" y="291.75" width="2.38" height="2.35" fill="rgb(252,252,252)"/>
<rect x="667.98" y="291.75" width="2.38" height="2.35" fill="rgb(252,252,252)"/>
<rect x="670.36" y="291.75" width="2.38" height="2.35" fill="rgb(252,252,252)"/>
<rect x="672.74" y="291.75" width="2.38" height="2.35" fill="rgb(252,252,252)"/>
<rect x="675.12" y="291.75" width="2.38" height="2.35" fill="rgb(252,252,252)"/>
<rect x="677.50" y="291.75" width="2.38" height="2.35" fill="rgb(235,235,235)"/>
<rect x="618.00" y="294.10" width="2.38" height="2.35" fill="rgb(252,252,252)"/>
<rect x="620.38" y="294.10" width="2.38" height="2.35" fill="rgb(245,245,245)"/>
<rect x="622.76" y="294.10" width="2.38" height="2.35" fill="rgb(252,252,252)"/>
<rect x="625.14" y="294.10" width="2.38" height="2.35" fill="rgb(252,252,252)"/>
<rect x="627.52" y="294.10" width="2.38" height="2.35" fill="rgb(245,245,245)"/>
<rect x="629.90" y="294.10" width="2.38" height="2.35" fill="rgb(252,252,252)"/>
<rect x="632.28" y="294.10" width="2.38" height="2.35" fill="rgb(252,252,252)"/>
<rect x="634.66" y="294.10" width="2.38" height="2.35" fill="rgb(252,252,252)"/>
<rect x="637.04" y="294.10" width="2.38" height="2.35" fill="rgb(252,252,252)"/>
<rect x="639.42" y="294.10" width="2.38" height="2.35" fill="rgb(252,252,252)"/>
<rect x="641.80" y="294.10" width="2.38" height="2.35" fill="rgb(252,252,252)"/>
<rect x="644.18" y="294.10" width="2.38" height="2.35" fill="rgb(252,252,252)"/>
<rect x="646.56" y="294.10" width="2.38" height="2.35" fill="rgb(245,245,245)"/>
<rect x="648.94" y="294.10" width="2.38" height="2.35" fill="rgb(252,252,252)"/>
<rect x="651.32" y="294.10" width="2.38" height="2.35" fill="rgb(252,252,252)"/>
<rect x="653.70" y="294.10" width="2.38" height="2.35" fill="rgb(252,252,252)"/>
<rect x="656.08" y="294.10" width="2.38" height="2.35" fill="rgb(252,252,252)"/>
<rect x="658.46" y="294.10" width="2.38" height="2.35" fill="rgb(252,252,252)"/>
<rect x="660.84" y="294.10" width="2.38" height="2.35" fill="rgb(235,235,235)"/>
<rect x="663.22" y="294.10" width="2.38" height="2.35" fill="rgb(252,252,252)"/>
<rect x="665.60" y="294.10" width="2.38" height="2.35" fill="rgb(252,252,252)"/>
<rect x="667.98" y="294.10" width="2.38" height="2.35" fill="rgb(240,240,240)"/>
<rect x="670.36" y="294.10" width="2.38" height="2.35" fill="rgb(252,252,252)"/>
<rect x="672.74" y="294.10" width="2.38" height="2.35" fill="rgb(252,252,252)"/>
<rect x="675.12" y="294.10" width="2.38" height="2.35" fill="rgb(252,252,252)"/>
<rect x="677.50" y="294.10" width="2.38" height="2.35" fill="rgb(245,245,245)"/>
<rect x="618.00" y="296.45" width="2.38" height="2.35" fill="rgb(252,252,252)"/>
<rect x="620.38" y="296.45" width="2.38" height="2.35" fill="rgb(252,252,252)"/>
<rect x="622.76" y="296.45" width="2.38" height="2.35" fill="rgb(252,252,252)"/>
<rect x="625.14" y="296.45" width="2.38" height="2.35" fill="rgb(252,252,252)"/>
<rect x="627.52" y="296.45" width="2.38" height="2.35" fill="rgb(252,252,252)"/>
<rect x="629.90" y="296.45" width="2.38" height="2.35" fill="rgb(245,245,245)"/>
<rect x="632.28" y="296.45" width="2.38" height="2.35" fill="rgb(252,252,252)"/>
<rect x="634.66" y="296.45" width="2.38" height="2.35" fill="rgb(252,252,252)"/>
<rect x="637.04" y="296.45" width="2.38" height="2.35" fill="rgb(252,252,252)"/>
<rect x="639.42" y="296.45" width="2.38" height="2.35" fill="rgb(252,252,252)"/>
<rect x="641.80" y="296.45" width="2.38" height="2.35" fill="rgb(252,252,252)"/>
<rect x="644.18" y="296.45" width="2.38" height="2.35" fill="rgb(235,235,235)"/>
<rect x="646.56" y="296.45" width="2.38" height="2.35" fill="rgb(252,252,252)"/>
<rect x="648.94" y="296.45" width="2.38" height="2.35" fill="rgb(252,252,252)"/>
<rect x="651.32" y="296.45" width="2.38" height="2.35" fill="rgb(252,252,252)"/>
<rect x="653.70" y="296.45" width="2.38" height="2.35" fill="rgb(252,252,252)"/>
<rect x="656.08" y="296.45" width="2.38" height="2.35" fill="rgb(252,252,252)"/>
<rect x="658.46" y="296.45" width="2.38" height="2.35" fill="rgb(252,252,252)"/>
<rect x="660.84" y="296.45" width="2.38" height="2.35" fill="rgb(252,252,252)"/>
<rect x="663.22" y="296.45" width="2.38" height="2.35" fill="rgb(240,240,240)"/>
<rect x="665.60" y="296.45" width="2.38" height="2.35" fill="rgb(252,252,252)"/>
<rect x="667.98" y="296.45" width="2.38" height="2.35" fill="rgb(252,252,252)"/>
<rect x="670.36" y="296.45" width="2.38" height="2.35" fill="rgb(252,252,252)"/>
<rect x="672.74" y="296.45" width="2.38" height="2.35" fill="rgb(240,240,240)"/>
<rect x="675.12" y="296.45" width="2.38" height="2.35" fill="rgb(252,252,252)"/>
<rect x="677.50" y="296.45" width="2.38" height="2.35" fill="rgb(252,252,252)"/>
<rect x="618.00" y="298.80" width="2.38" height="2.35" fill="rgb(252,252,252)"/>
<rect x="620.38" y="298.80" width="2.38" height="2.35" fill="rgb(252,252,252)"/>
<rect x="622.76" y="298.80" width="2.38" height="2.35" fill="rgb(245,245,245)"/>
<rect x="625.14" y="298.80" width="2.38" height="2.35" fill="rgb(252,252,252)"/>
<rect x="627.52" y="298.80" width="2.38" height="2.35" fill="rgb(252,252,252)"/>
<rect x="629.90" y="298.80" width="2.38" height="2.35" fill="rgb(252,252,252)"/>
<rect x="632.28" y="298.80" width="2.38" height="2.35" fill="rgb(252,252,252)"/>
<rect x="634.66" y="298.80" width="2.38" height="2.35" fill="rgb(252,252,252)"/>
<rect x="637.04" y="298.80" width="2.38" height="2.35" fill="rgb(252,252,252)"/>
<rect x="639.42" y="298.80" width="2.38" height="2.35" fill="rgb(252,252,252)"/>
<rect x="641.80" y="298.80" width="2.38" height="2.35" fill="rgb(235,235,235)"/>
<rect x="644.18" y="298.80" width="2.38" height="2.35" fill="rgb(252,252,252)"/>
<rect x="646.56" y="298.80" width="2.38" height="2.35" fill="rgb(252,252,252)"/>
<rect x="648.94" y="298.80" width="2.38" height="2.35" fill="rgb(245,245,245)"/>
<rect x="651.32" y="298.80" width="2.38" height="2.35" fill="rgb(252,252,252)"/>
<rect x="653.70" y="298.80" width="2.38" height="2.35" fill="rgb(235,235,235)"/>
<rect x="656.08" y="298.80" width="2.38" height="2.35" fill="rgb(235,235,235)"/>
<rect x="658.46" y="298.80" width="2.38" height="2.35" fill="rgb(252,252,252)"/>
<rect x="660.84" y="298.80" width="2.38" height="2.35" fill="rgb(252,252,252)"/>
<rect x="663.22" y="298.80" width="2.38" height="2.35" fill="rgb(252,252,252)"/>
<rect x="665.60" y="298.80" width="2.38" height="2.35" fill="rgb(252,252,252)"/>
<rect x="667.98" y="298.80" width="2.38" height="2.35" fill="rgb(240,240,240)"/>
<rect x="670.36" y="298.80" width="2.38" height="2.35" fill="rgb(252,252,252)"/>
<rect x="672.74" y="298.80" width="2.38" height="2.35" fill="rgb(252,252,252)"/>
<rect x="675.12" y="298.80" width="2.38" height="2.35" fill="rgb(245,245,245)"/>
<rect x="677.50" y="298.80" width="2.38" height="2.35" fill="rgb(252,252,252)"/>
<rect x="618.00" y="301.15" width="2.38" height="2.35" fill="rgb(252,252,252)"/>
<rect x="620.38" y="301.15" width="2.38" height="2.35" fill="rgb(252,252,252)"/>
<rect x="622.76" y="301.15" width="2.38" height="2.35" fill="rgb(252,252,252)"/>
<rect x="625.14" y="301.15" width="2.38" height="2.35" fill="rgb(252,252,252)"/>
<rect x="627.52" y="301.15" width="2.38" height="2.35" fill="rgb(252,252,252)"/>
<rect x="629.90" y="301.15" width="2.38" height="2.35" fill="rgb(252,252,252)"/>
<rect x="632.28" y="301.15" width="2.38" height="2.35" fill="rgb(252,252,252)"/>
<rect x="634.66" y="301.15" width="2.38" height="2.35" fill="rgb(252,252,252)"/>
<rect x="637.04" y="301.15" width="2.38" height="2.35" fill="rgb(252,252,252)"/>
<rect x="639.42" y="301.15" width="2.38" height="2.35" fill="rgb(252,252,252)"/>
<rect x="641.80" y="301.15" width="2.38" height="2.35" fill="rgb(235,235,235)"/>
<rect x="644.18" y="301.15" width="2.38" height="2.35" fill="rgb(252,252,252)"/>
<rect x="646.56" y="301.15" width="2.38" height="2.35" fill="rgb(252,252,252)"/>
<rect x="648.94" y="301.15" width="2.38" height="2.35" fill="rgb(245,245,245)"/>
<rect x="651.32" y="301.15" width="2.38" height="2.35" fill="rgb(252,252,252)"/>
<rect x="653.70" y="301.15" width="2.38" height="2.35" fill="rgb(252,252,252)"/>
<rect x="656.08" y="301.15" width="2.38" height="2.35" fill="rgb(252,252,252)"/>
<rect x="658.46" y="301.15" width="2.38" height="2.35" fill="rgb(252,252,252)"/>
<rect x="660.84" y="301.15" width="2.38" height="2.35" fill="rgb(252,252,252)"/>
<rect x="663.22" y="301.15" width="2.38" height="2.35" fill="rgb(252,252,252)"/>
<rect x="665.60" y="301.15" width="2.38" height="2.35" fill="rgb(252,252,252)"/>
<rect x="667.98" y="301.15" width="2.38" height="2.35" fill="rgb(240,240,240)"/>
<rect x="670.36" y="301.15" width="2.38" height="2.35" fill="rgb(252,252,252)"/>
<rect x="672.74" y="301.15" width="2.38" height="2.35" fill="rgb(252,252,252)"/>
<rect x="675.12" y="301.15" width="2.38" height="2.35" fill="rgb(245,245,245)"/>
<rect x="677.50" y="301.15" width="2.38" height="2.35" fill="rgb(252,252,252)"/>
<rect x="618.00" y="303.50" width="2.38" height="2.35" fill="rgb(252,252,252)"/>
<rect x="620.38" y="303.50" width="2.38" height="2.35" fill="rgb(252,252,252)"/>
<rect x="622.76" y="303.50" width="2.38" height="2.35" fill="rgb(252,252,252)"/>
<rect x="625.14" y="303.50" width="2.38" height="2.35" fill="rgb(252,252,252)"/>
<rect x="627.52" y="303.50" width="2.38" height="2.35" fill="rgb(252,252,252)"/>
<rect x="629.90" y="303.50" width="2.38" height="2.35" fill="rgb(235,235,235)"/>
<rect x="632.28" y="303.50" width="2.38" height="2.35" fill="rgb(252,252,252)"/>
<rect x="634.66" y="303.50" width="2.38" height="2.35" fill="rgb(252,252,252)"/>
<rect x="637.04" y="303.50" width="2.38" height="2.35" fill="rgb(252,252,252)"/>
<rect x="639.42" y="303.50" width="2.38" height="2.35" fill="rgb(252,252,252)"/>
<rect x="641.80" y="303.50" width="2.38" height="2.35" fill="rgb(252,252,252)"/>
<rect x="644.18" y="303.50" width="2.38" height="2.35" fill="rgb(252,252,252)"/>
<rect x="646.56" y="303.50" width="2.38" height="2.35" fill="rgb(245,245,245)"/>
<rect x="648.94" y="303.50" width="2.38" height="2.35" fill="rgb(252,252,252)"/>
<rect x="651.32" y="303.50" width="2.38" height="2.35" fill="rgb(245,245,245)"/>
<rect x="653.70" y="303.50" width="2.38" height="2.35" fill="rgb(252,252,252)"/>
<rect x="656.08" y="303.50" width="2.38" height="2.35" fill="rgb(240,240,240)"/>
<rect x="658.46" y="303.50" width="2.38" height="2.35" fill="rgb(252,252,252)"/>
<rect x="660.84" y="303.50" width="2.38" height="2.35" fill="rgb(252,252,252)"/>
<rect x="663.22" y="303.50" width="2.38" height="2.35" fill="rgb(240,240,240)"/>
<rect x="665.60" y="303.50" width="2.38" height="2.35" fill="rgb(235,235,235)"/>
<rect x="667.98" y="303.50" width="2.38" height="2.35" fill="rgb(252,252,252)"/>
<rect x="670.36" y="303.50" width="2.38" height="2.35" fill="rgb(245,245,245)"/>
<rect x="672.74" y="303.50" width="2.38" height="2.35" fill="rgb(252,252,252)"/>
<rect x="675.12" y="303.50" width="2.38" height="2.35" fill="rgb(252,252,252)"/>
<rect x="677.50" y="303.50" width="2.38" height="2.35" fill="rgb(240,240,240)"/>
<rect x="618.00" y="305.85" width="2.38" height="2.35" fill="rgb(252,252,252)"/>
<rect x="620.38" y="305.85" width="2.38" height="2.35" fill="rgb(235,235,235)"/>
<rect x="622.76" y="305.85" width="2.38" height="2.35" fill="rgb(252,252,252)"/>
<rect x="625.14" y="305.85" width="2.38" height="2.35" fill="rgb(252,252,252)"/>
<rect x="627.52" y="305.85" width="2.38" height="2.35" fill="rgb(252,252,252)"/>
<rect x="629.90" y="305.85" width="2.38" height="2.35" fill="rgb(252,252,252)"/>
<rect x="632.28" y="305.85" width="2.38" height="2.35" fill="rgb(252,252,252)"/>
<rect x="634.66" y="305.85" width="2.38" height="2.35" fill="rgb(252,252,252)"/>
<rect x="637.04" y="305.85" width="2.38" height="2.35" fill="rgb(252,252,252)"/>
<rect x="639.42" y="305.85" width="2.38" height="2.35" fill="rgb(240,240,240)"/>
<rect x="641.80" y="305.85" width="2.38" height="2.35" fill="rgb(252,252,252)"/>
<rect x="644.18" y="305.85" width="2.38" height="2.35" fill="rgb(252,252,252)"/>
<rect x="646.56" y="305.85" width="2.38" height="2.35" fill="rgb(252,252,252)"/>
<rect x="648.94" y="305.85" width="2.38" height="2.35" fill="rgb(240,240,240)"/>
<rect x="651.32" y="305.85" width="2.38" height="2.35" fill="rgb(240,240,240)"/>
<rect x="653.70" y="305.85" width="2.38" height="2.35" fill="rgb(235,235,235)"/>
<rect x="656.08" y="305.85" width="2.38" height="2.35" fill="rgb(252,252,252)"/>
<rect x="658.46" y="305.85" width="2.38" height="2.35" fill="rgb(252,252,252)"/>
<rect x="660.84" y="305.85" width="2.38" height="2.35" fill="rgb(252,252,252)"/>
<rect x="663.22" y="305.85" width="2.38" height="2.35" fill="rgb(252,252,252)"/>
<rect x="665.60" y="305.85" width="2.38" height="2.35" fill="rgb(252,252,252)"/>
<rect x="667.98" y="305.85" width="2.38" height="2.35" fill="rgb(245,245,245)"/>
<rect x="670.36" y="305.85" width="2.38" height="2.35" fill="rgb(252,252,252)"/>
<rect x="672.74" y="305.85" width="2.38" height="2.35" fill="rgb(252,252,252)"/>
<rect x="675.12" y="305.85" width="2.38" height="2.35" fill="rgb(245,245,245)"/>
<rect x="677.50" y="305.85" width="2.38" height="2.35" fill="rgb(252,252,252)"/>
<rect x="618.00" y="308.20" width="2.38" height="2.35" fill="rgb(252,252,252)"/>
<rect x="620.38" y="308.20" width="2.38" height="2.35" fill="rgb(252,252,252)"/>
<rect x="622.76" y="308.20" width="2.38" height="2.35" fill="rgb(252,252,252)"/>
<rect x="625.14" y="308.20" width="2.38" height="2.35" fill="rgb(252,252,252)"/>
<rect x="627.52" y="308.20" width="2.38" height="2.35" fill="rgb(252,252,252)"/>
<rect x="629.90" y="308.20" width="2.38" height="2.35" fill="rgb(252,252,252)"/>
<rect x="632.28" y="308.20" width="2.38" height="2.35" fill="rgb(252,252,252)"/>
<rect x="634.66" y="308.20" width="2.38" height="2.35" fill="rgb(252,252,252)"/>
<rect x="637.04" y="308.20" width="2.38" height="2.35" fill="rgb(252,252,252)"/>
<rect x="639.42" y="308.20" width="2.38" height="2.35" fill="rgb(252,252,252)"/>
<rect x="641.80" y="308.20" width="2.38" height="2.35" fill="rgb(235,235,235)"/>
<rect x="644.18" y="308.20" width="2.38" height="2.35" fill="rgb(245,245,245)"/>
<rect x="646.56" y="308.20" width="2.38" height="2.35" fill="rgb(252,252,252)"/>
<rect x="648.94" y="308.20" width="2.38" height="2.35" fill="rgb(235,235,235)"/>
<rect x="651.32" y="308.20" width="2.38" height="2.35" fill="rgb(252,252,252)"/>
<rect x="653.70" y="308.20" width="2.38" height="2.35" fill="rgb(252,252,252)"/>
<rect x="656.08" y="308.20" width="2.38" height="2.35" fill="rgb(252,252,252)"/>
<rect x="658.46" y="308.20" width="2.38" height="2.35" fill="rgb(252,252,252)"/>
<rect x="660.84" y="308.20" width="2.38" height="2.35" fill="rgb(252,252,252)"/>
<rect x="663.22" y="308.20" width="2.38" height="2.35" fill="rgb(252,252,252)"/>
<rect x="665.60" y="308.20" width="2.38" height="2.35" fill="rgb(252,252,252)"/>
<rect x="667.98" y="308.20" width="2.38" height="2.35" fill="rgb(252,252,252)"/>
<rect x="670.36" y="308.20" width="2.38" height="2.35" fill="rgb(252,252,252)"/>
<rect x="672.74" y="308.20" width="2.38" height="2.35" fill="rgb(252,252,252)"/>
<rect x="675.12" y="308.20" width="2.38" height="2.35" fill="rgb(252,252,252)"/>
<rect x="677.50" y="308.20" width="2.38" height="2.35" fill="rgb(252,252,252)"/>
<rect x="618.00" y="310.55" width="2.38" height="2.35" fill="rgb(252,252,252)"/>
<rect x="620.38" y="310.55" width="2.38" height="2.35" fill="rgb(252,252,252)"/>
<rect x="622.76" y="310.55" width="2.38" height="2.35" fill="rgb(245,245,245)"/>
<rect x="625.14" y="310.55" width="2.38" height="2.35" fill="rgb(252,252,252)"/>
<rect x="627.52" y="310.55" width="2.38" height="2.35" fill="rgb(252,252,252)"/>
<rect x="629.90" y="310.55" width="2.38" height="2.35" fill="rgb(252,252,252)"/>
<rect x="632.28" y="310.55" width="2.38" height="2.35" fill="rgb(252,252,252)"/>
<rect x="634.66" y="310.55" width="2.38" height="2.35" fill="rgb(252,252,252)"/>
<rect x="637.04" y="310.55" width="2.38" height="2.35" fill="rgb(235,235,235)"/>
<rect x="639.42" y="310.55" width="2.38" height="2.35" fill="rgb(252,252,252)"/>
<rect x="641.80" y="310.55" width="2.38" height="2.35" fill="rgb(252,252,252)"/>
<rect x="644.18" y="310.55" width="2.38" height="2.35" fill="rgb(252,252,252)"/>
<rect x="646.56" y="310.55" width="2.38" height="2.35" fill="rgb(252,252,252)"/>
<rect x="648.94" y="310.55" width="2.38" height="2.35" fill="rgb(252,252,252)"/>
<rect x="651.32" y="310.55" width="2.38" height="2.35" fill="rgb(235,235,235)"/>
<rect x="653.70" y="310.55" width="2.38" height="2.35" fill="rgb(252,252,252)"/>
<rect x="656.08" y="310.55" width="2.38" height="2.35" fill="rgb(252,252,252)"/>
<rect x="658.46" y="310.55" width="2.38" height="2.35" fill="rgb(235,235,235)"/>
<rect x="660.84" y="310.55" width="2.38" height="2.35" fill="rgb(240,240,240)"/>
<rect x="663.22" y="310.55" width="2.38" height="2.35" fill="rgb(252,252,252)"/>
<rect x="665.60" y="310.55" width="2.38" height="2.35" fill="rgb(252,252,252)"/>
<rect x="667.98" y="310.55" width="2.38" height="2.35" fill="rgb(252,252,252)"/>
<rect x="670.36" y="310.55" width="2.38" height="2.35" fill="rgb(252,252,252)"/>
<rect x="672.74" y="310.55" width="2.38" height="2.35" fill="rgb(252,252,252)"/>
<rect x="675.12" y="310.55" width="2.38" height="2.35" fill="rgb(245,245,245)"/>
<rect x="677.50" y="310.55" width="2.38" height="2.35" fill="rgb(235,235,235)"/>
<rect x="618.00" y="312.90" width="2.38" height="2.35" fill="rgb(252,252,252)"/>
<rect x="620.38" y="312.90" width="2.38" height="2.35" fill="rgb(252,252,252)"/>
<rect x="622.76" y="312.90" width="2.38" height="2.35" fill="rgb(252,252,252)"/>
<rect x="625.14" y="312.90" width="2.38" height="2.35" fill="rgb(252,252,252)"/>
<rect x="627.52" y="312.90" width="2.38" height="2.35" fill="rgb(252,252,252)"/>
<rect x="629.90" y="312.90" width="2.38" height="2.35" fill="rgb(252,252,252)"/>
<rect x="632.28" y="312.90" width="2.38" height="2.35" fill="rgb(252,252,252)"/>
<rect x="634.66" y="312.90" width="2.38" height="2.35" fill="rgb(252,252,252)"/>
<rect x="637.04" y="312.90" width="2.38" height="2.35" fill="rgb(252,252,252)"/>
<rect x="639.42" y="312.90" width="2.38" height="2.35" fill="rgb(252,252,252)"/>
<rect x="641.80" y="312.90" width="2.38" height="2.35" fill="rgb(240,240,240)"/>
<rect x="644.18" y="312.90" width="2.38" height="2.35" fill="rgb(235,235,235)"/>
<rect x="646.56" y="312.90" width="2.38" height="2.35" fill="rgb(252,252,252)"/>
<rect x="648.94" y="312.90" width="2.38" height="2.35" fill="rgb(235,235,235)"/>
<rect x="651.32" y="312.90" width="2.38" height="2.35" fill="rgb(235,235,235)"/>
<rect x="653.70" y="312.90" width="2.38" height="2.35" fill="rgb(252,252,252)"/>
<rect x="656.08" y="312.90" width="2.38" height="2.35" fill="rgb(252,252,252)"/>
<rect x="658.46" y="312.90" width="2.38" height="2.35" fill="rgb(252,252,252)"/>
<rect x="660.84" y="312.90" width="2.38" height="2.35" fill="rgb(252,252,252)"/>
<rect x="663.22" y="312.90" width="2.38" height="2.35" fill="rgb(252,252,252)"/>
<rect x="665.60" y="312.90" width="2.38" height="2.35" fill="rgb(235,235,235)"/>
<rect x="667.98" y="312.90" width="2.38" height="2.35" fill="rgb(252,252,252)"/>
<rect x="670.36" y="312.90" width="2.38" height="2.35" fill="rgb(252,252,252)"/>
<rect x="672.74" y="312.90" width="2.38" height="2.35" fill="rgb(252,252,252)"/>
<rect x="675.12" y="312.90" width="2.38" height="2.35" fill="rgb(252,252,252)"/>
<rect x="677.50" y="312.90" width="2.38" height="2.35" fill="rgb(252,252,252)"/>
<rect x="618.00" y="315.25" width="2.38" height="2.35" fill="rgb(252,252,252)"/>
<rect x="620.38" y="315.25" width="2.38" height="2.35" fill="rgb(252,252,252)"/>
<rect x="622.76" y="315.25" width="2.38" height="2.35" fill="rgb(252,252,252)"/>
<rect x="625.14" y="315.25" width="2.38" height="2.35" fill="rgb(252,252,252)"/>
<rect x="627.52" y="315.25" width="2.38" height="2.35" fill="rgb(252,252,252)"/>
<rect x="629.90" y="315.25" width="2.38" height="2.35" fill="rgb(252,252,252)"/>
<rect x="632.28" y="315.25" width="2.38" height="2.35" fill="rgb(252,252,252)"/>
<rect x="634.66" y="315.25" width="2.38" height="2.35" fill="rgb(252,252,252)"/>
<rect x="637.04" y="315.25" width="2.38" height="2.35" fill="rgb(252,252,252)"/>
<rect x="639.42" y="315.25" width="2.38" height="2.35" fill="rgb(252,252,252)"/>
<rect x="641.80" y="315.25" width="2.38" height="2.35" fill="rgb(252,252,252)"/>
<rect x="644.18" y="315.25" width="2.38" height="2.35" fill="rgb(252,252,252)"/>
<rect x="646.56" y="315.25" width="2.38" height="2.35" fill="rgb(252,252,252)"/>
<rect x="648.94" y="315.25" width="2.38" height="2.35" fill="rgb(252,252,252)"/>
<rect x="651.32" y="315.25" width="2.38" height="2.35" fill="rgb(235,235,235)"/>
<rect x="653.70" y="315.25" width="2.38" height="2.35" fill="rgb(235,235,235)"/>
<rect x="656.08" y="315.25" width="2.38" height="2.35" fill="rgb(252,252,252)"/>
<rect x="658.46" y="315.25" width="2.38" height="2.35" fill="rgb(240,240,240)"/>
<rect x="660.84" y="315.25" width="2.38" height="2.35" fill="rgb(252,252,252)"/>
<rect x="663.22" y="315.25" width="2.38" height="2.35" fill="rgb(252,252,252)"/>
<rect x="665.60" y="315.25" width="2.38" height="2.35" fill="rgb(252,252,252)"/>
<rect x="667.98" y="315.25" width="2.38" height="2.35" fill="rgb(252,252,252)"/>
<rect x="670.36" y="315.25" width="2.38" height="2.35" fill="rgb(252,252,252)"/>
<rect x="672.74" y="315.25" width="2.38" height="2.35" fill="rgb(252,252,252)"/>
<rect x="675.12" y="315.25" width="2.38" height="2.35" fill="rgb(252,252,252)"/>
<rect x="677.50" y="315.25" width="2.38" height="2.35" fill="rgb(252,252,252)"/>
<rect x="618.00" y="317.60" width="2.38" height="2.35" fill="rgb(252,252,252)"/>
<rect x="620.38" y="317.60" width="2.38" height="2.35" fill="rgb(245,245,245)"/>
<rect x="622.76" y="317.60" width="2.38" height="2.35" fill="rgb(235,235,235)"/>
<rect x="625.14" y="317.60" width="2.38" height="2.35" fill="rgb(252,252,252)"/>
<rect x="627.52" y="317.60" width="2.38" height="2.35" fill="rgb(252,252,252)"/>
<rect x="629.90" y="317.60" width="2.38" height="2.35" fill="rgb(235,235,235)"/>
<rect x="632.28" y="317.60" width="2.38" height="2.35" fill="rgb(252,252,252)"/>
<rect x="634.66" y="317.60" width="2.38" height="2.35" fill="rgb(252,252,252)"/>
<rect x="637.04" y="317.60" width="2.38" height="2.35" fill="rgb(252,252,252)"/>
<rect x="639.42" y="317.60" width="2.38" height="2.35" fill="rgb(235,235,235)"/>
<rect x="641.80" y="317.60" width="2.38" height="2.35" fill="rgb(252,252,252)"/>
<rect x="644.18" y="317.60" width="2.38" height="2.35" fill="rgb(252,252,252)"/>
<rect x="646.56" y="317.60" width="2.38" height="2.35" fill="rgb(252,252,252)"/>
<rect x="648.94" y="317.60" width="2.38" height="2.35" fill="rgb(252,252,252)"/>
<rect x="651.32" y="317.60" width="2.38" height="2.35" fill="rgb(252,252,252)"/>
<rect x="653.70" y="317.60" width="2.38" height="2.35" fill="rgb(252,252,252)"/>
<rect x="656.08" y="317.60" width="2.38" height="2.35" fill="rgb(252,252,252)"/>
<rect x="658.46" y="317.60" width="2.38" height="2.35" fill="rgb(252,252,252)"/>
<rect x="660.84" y="317.60" width="2.38" height="2.35" fill="rgb(245,245,245)"/>
<rect x="663.22" y="317.60" width="2.38" height="2.35" fill="rgb(240,240,240)"/>
<rect x="665.60" y="317.60" width="2.38" height="2.35" fill="rgb(252,252,252)"/>
<rect x="667.98" y="317.60" width="2.38" height="2.35" fill="rgb(252,252,252)"/>
<rect x="670.36" y="317.60" width="2.38" height="2.35" fill="rgb(252,252,252)"/>
<rect x="672.74" y="317.60" width="2.38" height="2.35" fill="rgb(252,252,252)"/>
<rect x="675.12" y="317.60" width="2.38" height="2.35" fill="rgb(240,240,240)"/>
<rect x="677.50" y="317.60" width="2.38" height="2.35" fill="rgb(252,252,252)"/>
<rect x="618.00" y="319.95" width="2.38" height="2.35" fill="rgb(252,252,252)"/>
<rect x="620.38" y="319.95" width="2.38" height="2.35" fill="rgb(240,240,240)"/>
<rect x="622.76" y="319.95" width="2.38" height="2.35" fill="rgb(240,240,240)"/>
<rect x="625.14" y="319.95" width="2.38" height="2.35" fill="rgb(235,235,235)"/>
<rect x="627.52" y="319.95" width="2.38" height="2.35" fill="rgb(252,252,252)"/>
<rect x="629.90" y="319.95" width="2.38" height="2.35" fill="rgb(245,245,245)"/>
<rect x="632.28" y="319.95" width="2.38" height="2.35" fill="rgb(252,252,252)"/>
<rect x="634.66" y="319.95" width="2.38" height="2.35" fill="rgb(252,252,252)"/>
<rect x="637.04" y="319.95" width="2.38" height="2.35" fill="rgb(252,252,252)"/>
<rect x="639.42" y="319.95" width="2.38" height="2.35" fill="rgb(252,252,252)"/>
<rect x="641.80" y="319.95" width="2.38" height="2.35" fill="rgb(252,252,252)"/>
<rect x="644.18" y="319.95" width="2.38" height="2.35" fill="rgb(252,252,252)"/>
<rect x="646.56" y="319.95" width="2.38" height="2.35" fill="rgb(252,252,252)"/>
<rect x="648.94" y="319.95" width="2.38" height="2.35" fill="rgb(252,252,252)"/>
<rect x="651.32" y="319.95" width="2.38" height="2.35" fill="rgb(245,245,245)"/>
<rect x="653.70" y="319.95" width="2.38" height="2.35" fill="rgb(252,252,252)"/>
<rect x="656.08" y="319.95" width="2.38" height="2.35" fill="rgb(252,252,252)"/>
<rect x="658.46" y="319.95" width="2.38" height="2.35" fill="rgb(252,252,252)"/>
<rect x="660.84" y="319.95" width="2.38" height="2.35" fill="rgb(252,252,252)"/>
<rect x="663.22" y="319.95" width="2.38" height="2.35" fill="rgb(252,252,252)"/>
<rect x="665.60" y="319.95" width="2.38" height="2.35" fill="rgb(252,252,252)"/>
<rect x="667.98" y="319.95" width="2.38" height="2.35" fill="rgb(252,252,252)"/>
<rect x="670.36" y="319.95" width="2.38" height="2.35" fill="rgb(252,252,252)"/>
<rect x="672.74" y="319.95" width="2.38" height="2.35" fill="rgb(252,252,252)"/>
<rect x="675.12" y="319.95" width="2.38" height="2.35" fill="rgb(252,252,252)"/>
<rect x="677.50" y="319.95" width="2.38" height="2.35" fill="rgb(252,252,252)"/>
<rect x="618.00" y="322.30" width="2.38" height="2.35" fill="rgb(252,252,252)"/>
<rect x="620.38" y="322.30" width="2.38" height="2.35" fill="rgb(252,252,252)"/>
<rect x="622.76" y="322.30" width="2.38" height="2.35" fill="rgb(252,252,252)"/>
<rect x="625.14" y="322.30" width="2.38" height="2.35" fill="rgb(252,252,252)"/>
<rect x="627.52" y="322.30" width="2.38" height="2.35" fill="rgb(252,252,252)"/>
<rect x="629.90" y="322.30" width="2.38" height="2.35" fill="rgb(252,252,252)"/>
<rect x="632.28" y="322.30" width="2.38" height="2.35" fill="rgb(252,252,252)"/>
<rect x="634.66" y="322.30" width="2.38" height="2.35" fill="rgb(252,252,252)"/>
<rect x="637.04" y="322.30" width="2.38" height="2.35" fill="rgb(252,252,252)"/>
<rect x="639.42" y="322.30" width="2.38" height="2.35" fill="rgb(252,252,252)"/>
<rect x="641.80" y="322.30" width="2.38" height="2.35" fill="rgb(252,252,252)"/>
<rect x="644.18" y="322.30" width="2.38" height="2.35" fill="rgb(252,252,252)"/>
<rect x="646.56" y="322.30" width="2.38" height="2.35" fill="rgb(240,240,240)"/>
<rect x="648.94" y="322.30" width="2.38" height="2.35" fill="rgb(252,252,252)"/>
<rect x="651.32" y="322.30" width="2.38" height="2.35" fill="rgb(252,252,252)"/>
<rect x="653.70" y="322.30" width="2.38" height="2.35" fill="rgb(252,252,252)"/>
<rect x="656.08" y="322.30" width="2.38" height="2.35" fill="rgb(252,252,252)"/>
<rect x="658.46" y="322.30" width="2.38" height="2.35" fill="rgb(245,245,245)"/>
<rect x="660.84" y="322.30" width="2.38" height="2.35" fill="rgb(252,252,252)"/>
<rect x="663.22" y="322.30" width="2.38" height="2.35" fill="rgb(252,252,252)"/>
<rect x="665.60" y="322.30" width="2.38" height="2.35" fill="rgb(252,252,252)"/>
<rect x="667.98" y="322.30" width="2.38" height="2.35" fill="rgb(252,252,252)"/>
<rect x="670.36" y="322.30" width="2.38" height="2.35" fill="rgb(252,252,252)"/>
<rect x="672.74" y="322.30" width="2.38" height="2.35" fill="rgb(252,252,252)"/>
<rect x="675.12" y="322.30" width="2.38" height="2.35" fill="rgb(252,252,252)"/>
<rect x="677.50" y="322.30" width="2.38" height="2.35" fill="rgb(235,235,235)"/>
<rect x="618.00" y="324.65" width="2.38" height="2.35" fill="rgb(240,240,240)"/>
<rect x="620.38" y="324.65" width="2.38" height="2.35" fill="rgb(240,240,240)"/>
<rect x="622.76" y="324.65" width="2.38" height="2.35" fill="rgb(245,245,245)"/>
<rect x="625.14" y="324.65" width="2.38" height="2.35" fill="rgb(252,252,252)"/>
<rect x="627.52" y="324.65" width="2.38" height="2.35" fill="rgb(252,252,252)"/>
<rect x="629.90" y="324.65" width="2.38" height="2.35" fill="rgb(252,252,252)"/>
<rect x="632.28" y="324.65" width="2.38" height="2.35" fill="rgb(252,252,252)"/>
<rect x="634.66" y="324.65" width="2.38" height="2.35" fill="rgb(252,252,252)"/>
<rect x="637.04" y="324.65" width="2.38" height="2.35" fill="rgb(252,252,252)"/>
<rect x="639.42" y="324.65" width="2.38" height="2.35" fill="rgb(252,252,252)"/>
<rect x="641.80" y="324.65" width="2.38" height="2.35" fill="rgb(252,252,252)"/>
<rect x="644.18" y="324.65" width="2.38" height="2.35" fill="rgb(252,252,252)"/>
<rect x="646.56" y="324.65" width="2.38" height="2.35" fill="rgb(252,252,252)"/>
<rect x="648.94" y="324.65" width="2.38" height="2.35" fill="rgb(252,252,252)"/>
<rect x="651.32" y="324.65" width="2.38" height="2.35" fill="rgb(252,252,252)"/>
<rect x="653.70" y="324.65" width="2.38" height="2.35" fill="rgb(252,252,252)"/>
<rect x="656.08" y="324.65" width="2.38" height="2.35" fill="rgb(252,252,252)"/>
<rect x="658.46" y="324.65" width="2.38" height="2.35" fill="rgb(235,235,235)"/>
<rect x="660.84" y="324.65" width="2.38" height="2.35" fill="rgb(252,252,252)"/>
<rect x="663.22" y="324.65" width="2.38" height="2.35" fill="rgb(235,235,235)"/>
<rect x="665.60" y="324.65" width="2.38" height="2.35" fill="rgb(252,252,252)"/>
<rect x="667.98" y="324.65" width="2.38" height="2.35" fill="rgb(252,252,252)"/>
<rect x="670.36" y="324.65" width="2.38" height="2.35" fill="rgb(240,240,240)"/>
<rect x="672.74" y="324.65" width="2.38" height="2.35" fill="rgb(252,252,252)"/>
<rect x="675.12" y="324.65" width="2.38" height="2.35" fill="rgb(252,252,252)"/>
<rect x="677.50" y="324.65" width="2.38" height="2.35" fill="rgb(252,252,252)"/>
<rect x="618.00" y="327.00" width="2.38" height="2.35" fill="rgb(240,240,240)"/>
<rect x="620.38" y="327.00" width="2.38" height="2.35" fill="rgb(252,252,252)"/>
<rect x="622.76" y="327.00" width="2.38" height="2.35" fill="rgb(252,252,252)"/>
<rect x="625.14" y="327.00" width="2.38" height="2.35" fill="rgb(235,235,235)"/>
<rect x="627.52" y="327.00" width="2.38" height="2.35" fill="rgb(252,252,252)"/>
<rect x="629.90" y="327.00" width="2.38" height="2.35" fill="rgb(240,240,240)"/>
<rect x="632.28" y="327.00" width="2.38" height="2.35" fill="rgb(235,235,235)"/>
<rect x="634.66" y="327.00" width="2.38" height="2.35" fill="rgb(252,252,252)"/>
<rect x="637.04" y="327.00" width="2.38" height="2.35" fill="rgb(245,245,245)"/>
<rect x="639.42" y="327.00" width="2.38" height="2.35" fill="rgb(252,252,252)"/>
<rect x="641.80" y="327.00" width="2.38" height="2.35" fill="rgb(245,245,245)"/>
<rect x="644.18" y="327.00" width="2.38" height="2.35" fill="rgb(252,252,252)"/>
<rect x="646.56" y="327.00" width="2.38" height="2.35" fill="rgb(252,252,252)"/>
<rect x="648.94" y="327.00" width="2.38" height="2.35" fill="rgb(252,252,252)"/>
<rect x="651.32" y="327.00" width="2.38" height="2.35" fill="rgb(252,252,252)"/>
<rect x="653.70" y="327.00" width="2.38" height="2.35" fill="rgb(252,252,252)"/>
<rect x="656.08" y="327.00" width="2.38" height="2.35" fill="rgb(252,252,252)"/>
<rect x="658.46" y="327.00" width="2.38" height="2.35" fill="rgb(252,252,252)"/>
<rect x="660.84" y="327.00" width="2.38" height="2.35" fill="rgb(240,240,240)"/>
<rect x="663.22" y="327.00" width="2.38" height="2.35" fill="rgb(252,252,252)"/>
<rect x="665.60" y="327.00" width="2.38" height="2.35" fill="rgb(252,252,252)"/>
<rect x="667.98" y="327.00" width="2.38" height="2.35" fill="rgb(252,252,252)"/>
<rect x="670.36" y="327.00" width="2.38" height="2.35" fill="rgb(252,252,252)"/>
<rect x="672.74" y="327.00" width="2.38" height="2.35" fill="rgb(252,252,252)"/>
<rect x="675.12" y="327.00" width="2.38" height="2.35" fill="rgb(252,252,252)"/>
<rect x="677.50" y="327.00" width="2.38" height="2.35" fill="rgb(252,252,252)"/>
<rect x="618.00" y="329.35" width="2.38" height="2.35" fill="rgb(252,252,252)"/>
<rect x="620.38" y="329.35" width="2.38" height="2.35" fill="rgb(252,252,252)"/>
<rect x="622.76" y="329.35" width="2.38" height="2.35" fill="rgb(235,235,235)"/>
<rect x="625.14" y="329.35" width="2.38" height="2.35" fill="rgb(240,240,240)"/>
<rect x="627.52" y="329.35" width="2.38" height="2.35" fill="rgb(252,252,252)"/>
<rect x="629.90" y="329.35" width="2.38" height="2.35" fill="rgb(252,252,252)"/>
<rect x="632.28" y="329.35" width="2.38" height="2.35" fill="rgb(252,252,252)"/>
<rect x="634.66" y="329.35" width="2.38" height="2.35" fill="rgb(252,252,252)"/>
<rect x="637.04" y="329.35" width="2.38" height="2.35" fill="rgb(252,252,252)"/>
<rect x="639.42" y="329.35" width="2.38" height="2.35" fill="rgb(240,240,240)"/>
<rect x="641.80" y="329.35" width="2.38" height="2.35" fill="rgb(245,245,245)"/>
<rect x="644.18" y="329.35" width="2.38" height="2.35" fill="rgb(252,252,252)"/>
<rect x="646.56" y="329.35" width="2.38" height="2.35" fill="rgb(240,240,240)"/>
<rect x="648.94" y="329.35" width="2.38" height="2.35" fill="rgb(252,252,252)"/>
<rect x="651.32" y="329.35" width="2.38" height="2.35" fill="rgb(252,252,252)"/>
<rect x="653.70" y="329.35" width="2.38" height="2.35" fill="rgb(252,252,252)"/>
<rect x="656.08" y="329.35" width="2.38" height="2.35" fill="rgb(252,252,252)"/>
<rect x="658.46" y="329.35" width="2.38" height="2.35" fill="rgb(245,245,245)"/>
<rect x="660.84" y="329.35" width="2.38" height="2.35" fill="rgb(252,252,252)"/>
<rect x="663.22" y="329.35" width="2.38" height="2.35" fill="rgb(252,252,252)"/>
<rect x="665.60" y="329.35" width="2.38" height="2.35" fill="rgb(252,252,252)"/>
<rect x="667.98" y="329.35" width="2.38" height="2.35" fill="rgb(252,252,252)"/>
<rect x="670.36" y="329.35" width="2.38" height="2.35" fill="rgb(252,252,252)"/>
<rect x="672.74" y="329.35" width="2.38" height="2.35" fill="rgb(252,252,252)"/>
<rect x="675.12" y="329.35" width="2.38" height="2.35" fill="rgb(252,252,252)"/>
<rect x="677.50" y="329.35" width="2.38" height="2.35" fill="rgb(245,245,245)"/>
<rect x="618.00" y="331.70" width="2.38" height="2.35" fill="rgb(252,252,252)"/>
<rect x="620.38" y="331.70" width="2.38" height="2.35" fill="rgb(252,252,252)"/>
<rect x="622.76" y="331.70" width="2.38" height="2.35" fill="rgb(252,252,252)"/>
<rect x="625.14" y="331.70" width="2.38" height="2.35" fill="rgb(252,252,252)"/>
<rect x="627.52" y="331.70" width="2.38" height="2.35" fill="rgb(252,252,252)"/>
<rect x="629.90" y="331.70" width="2.38" height="2.35" fill="rgb(252,252,252)"/>
<rect x="632.28" y="331.70" width="2.38" height="2.35" fill="rgb(252,252,252)"/>
<rect x="634.66" y="331.70" width="2.38" height="2.35" fill="rgb(235,235,235)"/>
<rect x="637.04" y="331.70" width="2.38" height="2.35" fill="rgb(240,240,240)"/>
<rect x="639.42" y="331.70" width="2.38" height="2.35" fill="rgb(252,252,252)"/>
<rect x="641.80" y="331.70" width="2.38" height="2.35" fill="rgb(235,235,235)"/>
<rect x="644.18" y="331.70" width="2.38" height="2.35" fill="rgb(252,252,252)"/>
<rect x="646.56" y="331.70" width="2.38" height="2.35" fill="rgb(252,252,252)"/>
<rect x="648.94" y="331.70" width="2.38" height="2.35" fill="rgb(252,252,252)"/>
<rect x="651.32" y="331.70" width="2.38" height="2.35" fill="rgb(252,252,252)"/>
<rect x="653.70" y="331.70" width="2.38" height="2.35" fill="rgb(252,252,252)"/>
<rect x="656.08" y="331.70" width="2.38" height="2.35" fill="rgb(252,252,252)"/>
<rect x="658.46" y="331.70" width="2.38" height="2.35" fill="rgb(245,245,245)"/>
<rect x="660.84" y="331.70" width="2.38" height="2.35" fill="rgb(245,245,245)"/>
<rect x="663.22" y="331.70" width="2.38" height="2.35" fill="rgb(252,252,252)"/>
<rect x="665.60" y="331.70" width="2.38" height="2.35" fill="rgb(252,252,252)"/>
<rect x="667.98" y="331.70" width="2.38" height="2.35" fill="rgb(252,252,252)"/>
<rect x="670.36" y="331.70" width="2.38" height="2.35" fill="rgb(252,252,252)"/>
<rect x="672.74" y="331.70" width="2.38" height="2.35" fill="rgb(240,240,240)"/>
<rect x="675.12" y="331.70" width="2.38" height="2.35" fill="rgb(252,252,252)"/>
<rect x="677.50" y="331.70" width="2.38" height="2.35" fill="rgb(252,252,252)"/>
<rect x="618.00" y="334.05" width="2.38" height="2.35" fill="rgb(252,252,252)"/>
<rect x="620.38" y="334.05" width="2.38" height="2.35" fill="rgb(240,240,240)"/>
<rect x="622.76" y="334.05" width="2.38" height="2.35" fill="rgb(252,252,252)"/>
<rect x="625.14" y="334.05" width="2.38" height="2.35" fill="rgb(252,252,252)"/>
<rect x="627.52" y="334.05" width="2.38" height="2.35" fill="rgb(252,252,252)"/>
<rect x="629.90" y="334.05" width="2.38" height="2.35" fill="rgb(252,252,252)"/>
<rect x="632.28" y="334.05" width="2.38" height="2.35" fill="rgb(252,252,252)"/>
<rect x="634.66" y="334.05" width="2.38" height="2.35" fill="rgb(235,235,235)"/>
<rect x="637.04" y="334.05" width="2.38" height="2.35" fill="rgb(240,240,240)"/>
<rect x="639.42" y="334.05" width="2.38" height="2.35" fill="rgb(252,252,252)"/>
<rect x="641.80" y="334.05" width="2.38" height="2.35" fill="rgb(235,235,235)"/>
<rect x="644.18" y="334.05" width="2.38" height="2.35" fill="rgb(252,252,252)"/>
<rect x="646.56" y="334.05" width="2.38" height="2.35" fill="rgb(252,252,252)"/>
<rect x="648.94" y="334.05" width="2.38" height="2.35" fill="rgb(252,252,252)"/>
<rect x="651.32" y="334.05" width="2.38" height="2.35" fill="rgb(252,252,252)"/>
<rect x="653.70" y="334.05" width="2.38" height="2.35" fill="rgb(252,252,252)"/>
<rect x="656.08" y="334.05" width="2.38" height="2.35" fill="rgb(252,252,252)"/>
<rect x="658.46" y="334.05" width="2.38" height="2.35" fill="rgb(252,252,252)"/>
<rect x="660.84" y="334.05" width="2.38" height="2.35" fill="rgb(245,245,245)"/>
<rect x="663.22" y="334.05" width="2.38" height="2.35" fill="rgb(252,252,252)"/>
<rect x="665.60" y="334.05" width="2.38" height="2.35" fill="rgb(252,252,252)"/>
<rect x="667.98" y="334.05" width="2.38" height="2.35" fill="rgb(252,252,252)"/>
<rect x="670.36" y="334.05" width="2.38" height="2.35" fill="rgb(252,252,252)"/>
<rect x="672.74" y="334.05" width="2.38" height="2.35" fill="rgb(252,252,252)"/>
<rect x="675.12" y="334.05" width="2.38" height="2.35" fill="rgb(252,252,252)"/>
<rect x="677.50" y="334.05" width="2.38" height="2.35" fill="rgb(252,252,252)"/>
<rect x="618.00" y="336.40" width="2.38" height="2.35" fill="rgb(252,252,252)"/>
<rect x="620.38" y="336.40" width="2.38" height="2.35" fill="rgb(245,245,245)"/>
<rect x="622.76" y="336.40" width="2.38" height="2.35" fill="rgb(252,252,252)"/>
<rect x="625.14" y="336.40" width="2.38" height="2.35" fill="rgb(252,252,252)"/>
<rect x="627.52" y="336.40" width="2.38" height="2.35" fill="rgb(235,235,235)"/>
<rect x="629.90" y="336.40" width="2.38" height="2.35" fill="rgb(240,240,240)"/>
<rect x="632.28" y="336.40" width="2.38" height="2.35" fill="rgb(252,252,252)"/>
<rect x="634.66" y="336.40" width="2.38" height="2.35" fill="rgb(252,252,252)"/>
<rect x="637.04" y="336.40" width="2.38" height="2.35" fill="rgb(252,252,252)"/>
<rect x="639.42" y="336.40" width="2.38" height="2.35" fill="rgb(252,252,252)"/>
<rect x="641.80" y="336.40" width="2.38" height="2.35" fill="rgb(252,252,252)"/>
<rect x="644.18" y="336.40" width="2.38" height="2.35" fill="rgb(252,252,252)"/>
<rect x="646.56" y="336.40" width="2.38" height="2.35" fill="rgb(252,252,252)"/>
<rect x="648.94" y="336.40" width="2.38" height="2.35" fill="rgb(252,252,252)"/>
<rect x="651.32" y="336.40" width="2.38" height="2.35" fill="rgb(252,252,252)"/>
<rect x="653.70" y="336.40" width="2.38" height="2.35" fill="rgb(252,252,252)"/>
<rect x="656.08" y="336.40" width="2.38" height="2.35" fill="rgb(235,235,235)"/>
<rect x="658.46" y="336.40" width="2.38" height="2.35" fill="rgb(252,252,252)"/>
<rect x="660.84" y="336.40" width="2.38" height="2.35" fill="rgb(252,252,252)"/>
<rect x="663.22" y="336.40" width="2.38" height="2.35" fill="rgb(235,235,235)"/>
<rect x="665.60" y="336.40" width="2.38" height="2.35" fill="rgb(252,252,252)"/>
<rect x="667.98" y="336.40" width="2.38" height="2.35" fill="rgb(252,252,252)"/>
<rect x="670.36" y="336.40" width="2.38" height="2.35" fill="rgb(252,252,252)"/>
<rect x="672.74" y="336.40" width="2.38" height="2.35" fill="rgb(252,252,252)"/>
<rect x="675.12" y="336.40" width="2.38" height="2.35" fill="rgb(252,252,252)"/>
<rect x="677.50" y="336.40" width="2.38" height="2.35" fill="rgb(252,252,252)"/>
<rect x="618.00" y="338.75" width="2.38" height="2.35" fill="rgb(252,252,252)"/>
<rect x="620.38" y="338.75" width="2.38" height="2.35" fill="rgb(240,240,240)"/>
<rect x="622.76" y="338.75" width="2.38" height="2.35" fill="rgb(252,252,252)"/>
<rect x="625.14" y="338.75" width="2.38" height="2.35" fill="rgb(252,252,252)"/>
<rect x="627.52" y="338.75" width="2.38" height="2.35" fill="rgb(252,252,252)"/>
<rect x="629.90" y="338.75" width="2.38" height="2.35" fill="rgb(252,252,252)"/>
<rect x="632.28" y="338.75" width="2.38" height="2.35" fill="rgb(252,252,252)"/>
<rect x="634.66" y="338.75" width="2.38" height="2.35" fill="rgb(252,252,252)"/>
<rect x="637.04" y="338.75" width="2.38" height="2.35" fill="rgb(252,252,252)"/>
<rect x="639.42" y="338.75" width="2.38" height="2.35" fill="rgb(240,240,240)"/>
<rect x="641.80" y="338.75" width="2.38" height="2.35" fill="rgb(235,235,235)"/>
<rect x="644.18" y="338.75" width="2.38" height="2.35" fill="rgb(252,252,252)"/>
<rect x="646.56" y="338.75" width="2.38" height="2.35" fill="rgb(252,252,252)"/>
<rect x="648.94" y="338.75" width="2.38" height="2.35" fill="rgb(252,252,252)"/>
<rect x="651.32" y="338.75" width="2.38" height="2.35" fill="rgb(252,252,252)"/>
<rect x="653.70" y="338.75" width="2.38" height="2.35" fill="rgb(252,252,252)"/>
<rect x="656.08" y="338.75" width="2.38" height="2.35" fill="rgb(252,252,252)"/>
<rect x="658.46" y="338.75" width="2.38" height="2.35" fill="rgb(252,252,252)"/>
<rect x="660.84" y="338.75" width="2.38" height="2.35" fill="rgb(252,252,252)"/>
<rect x="663.22" y="338.75" width="2.38" height="2.35" fill="rgb(252,252,252)"/>
<rect x="665.60" y="338.75" width="2.38" height="2.35" fill="rgb(252,252,252)"/>
<rect x="667.98" y="338.75" width="2.38" height="2.35" fill="rgb(252,252,252)"/>
<rect x="670.36" y="338.75" width="2.38" height="2.35" fill="rgb(252,252,252)"/>
<rect x="672.74" y="338.75" width="2.38" height="2.35" fill="rgb(252,252,252)"/>
<rect x="675.12" y="338.75" width="2.38" height="2.35" fill="rgb(240,240,240)"/>
<rect x="677.50" y="338.75" width="2.38" height="2.35" fill="rgb(252,252,252)"/>
<rect x="618.00" y="341.10" width="2.38" height="2.35" fill="rgb(252,252,252)"/>
<rect x="620.38" y="341.10" width="2.38" height="2.35" fill="rgb(252,252,252)"/>
<rect x="622.76" y="341.10" width="2.38" height="2.35" fill="rgb(252,252,252)"/>
<rect x="625.14" y="341.10" width="2.38" height="2.35" fill="rgb(252,252,252)"/>
<rect x="627.52" y="341.10" width="2.38" height="2.35" fill="rgb(252,252,252)"/>
<rect x="629.90" y="341.10" width="2.38" height="2.35" fill="rgb(252,252,252)"/>
<rect x="632.28" y="341.10" width="2.38" height="2.35" fill="rgb(252,252,252)"/>
<rect x="634.66" y="341.10" width="2.38" height="2.35" fill="rgb(252,252,252)"/>
<rect x="637.04" y="341.10" width="2.38" height="2.35" fill="rgb(252,252,252)"/>
<rect x="639.42" y="341.10" width="2.38" height="2.35" fill="rgb(252,252,252)"/>
<rect x="641.80" y="341.10" width="2.38" height="2.35" fill="rgb(252,252,252)"/>
<rect x="644.18" y="341.10" width="2.38" height="2.35" fill="rgb(252,252,252)"/>
<rect x="646.56" y="341.10" width="2.38" height="2.35" fill="rgb(252,252,252)"/>
<rect x="648.94" y="341.10" width="2.38" height="2.35" fill="rgb(252,252,252)"/>
<rect x="651.32" y="341.10" width="2.38" height="2.35" fill="rgb(252,252,252)"/>
<rect x="653.70" y="341.10" width="2.38" height="2.35" fill="rgb(252,252,252)"/>
<rect x="656.08" y="341.10" width="2.38" height="2.35" fill="rgb(252,252,252)"/>
<rect x="658.46" y="341.10" width="2.38" height="2.35" fill="rgb(240,240,240)"/>
<rect x="660.84" y="341.10" width="2.38" height="2.35" fill="rgb(235,235,235)"/>
<rect x="663.22" y="341.10" width="2.38" height="2.35" fill="rgb(252,252,252)"/>
<rect x="665.60" y="341.10" width="2.38" height="2.35" fill="rgb(245,245,245)"/>
<rect x="667.98" y="341.10" width="2.38" height="2.35" fill="rgb(252,252,252)"/>
<rect x="670.36" y="341.10" width="2.38" height="2.35" fill="rgb(252,252,252)"/>
<rect x="672.74" y="341.10" width="2.38" height="2.35" fill="rgb(252,252,252)"/>
<rect x="675.12" y="341.10" width="2.38" height="2.35" fill="rgb(252,252,252)"/>
<rect x="677.50" y="341.10" width="2.38" height="2.35" fill="rgb(252,252,252)"/>
<rect x="618.00" y="343.45" width="2.38" height="2.35" fill="rgb(235,235,235)"/>
<rect x="620.38" y="343.45" width="2.38" height="2.35" fill="rgb(252,252,252)"/>
<rect x="622.76" y="343.45" width="2.38" height="2.35" fill="rgb(252,252,252)"/>
<rect x="625.14" y="343.45" width="2.38" height="2.35" fill="rgb(252,252,252)"/>
<rect x="627.52" y="343.45" width="2.38" height="2.35" fill="rgb(252,252,252)"/>
<rect x="629.90" y="343.45" width="2.38" height="2.35" fill="rgb(252,252,252)"/>
<rect x="632.28" y="343.45" width="2.38" height="2.35" fill="rgb(235,235,235)"/>
<rect x="634.66" y="343.45" width="2.38" height="2.35" fill="rgb(252,252,252)"/>
<rect x="637.04" y="343.45" width="2.38" height="2.35" fill="rgb(252,252,252)"/>
<rect x="639.42" y="343.45" width="2.38" height="2.35" fill="rgb(252,252,252)"/>
<rect x="641.80" y="343.45" width="2.38" height="2.35" fill="rgb(252,252,252)"/>
<rect x="644.18" y="343.45" width="2.38" height="2.35" fill="rgb(252,252,252)"/>
<rect x="646.56" y="343.45" width="2.38" height="2.35" fill="rgb(252,252,252)"/>
<rect x="648.94" y="343.45" width="2.38" height="2.35" fill="rgb(252,252,252)"/>
<rect x="651.32" y="343.45" width="2.38" height="2.35" fill="rgb(252,252,252)"/>
<rect x="653.70" y="343.45" width="2.38" height="2.35" fill="rgb(252,252,252)"/>
<rect x="656.08" y="343.45" width="2.38" height="2.35" fill="rgb(235,235,235)"/>
<rect x="658.46" y="343.45" width="2.38" height="2.35" fill="rgb(252,252,252)"/>
<rect x="660.84" y="343.45" width="2.38" height="2.35" fill="rgb(252,252,252)"/>
<rect x="663.22" y="343.45" width="2.38" height="2.35" fill="rgb(252,252,252)"/>
<rect x="665.60" y="343.45" width="2.38" height="2.35" fill="rgb(252,252,252)"/>
<rect x="667.98" y="343.45" width="2.38" height="2.35" fill="rgb(252,252,252)"/>
<rect x="670.36" y="343.45" width="2.38" height="2.35" fill="rgb(245,245,245)"/>
<rect x="672.74" y="343.45" width="2.38" height="2.35" fill="rgb(252,252,252)"/>
<rect x="675.12" y="343.45" width="2.38" height="2.35" fill="rgb(252,252,252)"/>
<rect x="677.50" y="343.45" width="2.38" height="2.35" fill="rgb(252,252,252)"/>
</g>
<rect x="618" y="284.8" width="61.1" height="60.8" fill="none" stroke="#111" stroke-width="1.6"/>
<circle cx="619.19" cy="285.88" r="1.2" fill="#000"/>
<circle cx="678.69" cy="288.22" r="1.2" fill="#000"/>
<circle cx="676.31" cy="290.57" r="1.2" fill="#000"/>
<circle cx="673.93" cy="292.93" r="1.2" fill="#000"/>
<circle cx="664.41" cy="295.27" r="1.2" fill="#000"/>
<circle cx="671.55" cy="297.62" r="1.2" fill="#000"/>
<circle cx="666.79" cy="299.97" r="1.2" fill="#000"/>
<circle cx="669.17" cy="302.32" r="1.2" fill="#000"/>
<circle cx="662.03" cy="304.68" r="1.2" fill="#000"/>
<circle cx="659.65" cy="307.02" r="1.2" fill="#000"/>
<circle cx="623.95" cy="309.38" r="1.2" fill="#000"/>
<circle cx="628.71" cy="311.72" r="1.2" fill="#000"/>
<circle cx="626.33" cy="314.07" r="1.2" fill="#000"/>
<circle cx="657.27" cy="316.43" r="1.2" fill="#000"/>
<circle cx="621.57" cy="318.77" r="1.2" fill="#000"/>
<circle cx="635.85" cy="321.12" r="1.2" fill="#000"/>
<circle cx="654.89" cy="323.47" r="1.2" fill="#000"/>
<circle cx="631.09" cy="325.82" r="1.2" fill="#000"/>
<circle cx="638.23" cy="328.18" r="1.2" fill="#000"/>
<circle cx="633.47" cy="330.52" r="1.2" fill="#000"/>
<circle cx="642.99" cy="332.88" r="1.2" fill="#000"/>
<circle cx="645.37" cy="335.22" r="1.2" fill="#000"/>
<circle cx="647.75" cy="337.57" r="1.2" fill="#000"/>
<circle cx="652.51" cy="339.93" r="1.2" fill="#000"/>
<circle cx="650.13" cy="342.27" r="1.2" fill="#000"/>
<circle cx="640.61" cy="344.62" r="1.2" fill="#000"/>
<text x="654.9" y="358.1" font-size="13.9" fill="#222" text-anchor="middle" font-weight="normal" >Final</text>
</svg>
</body></html>
